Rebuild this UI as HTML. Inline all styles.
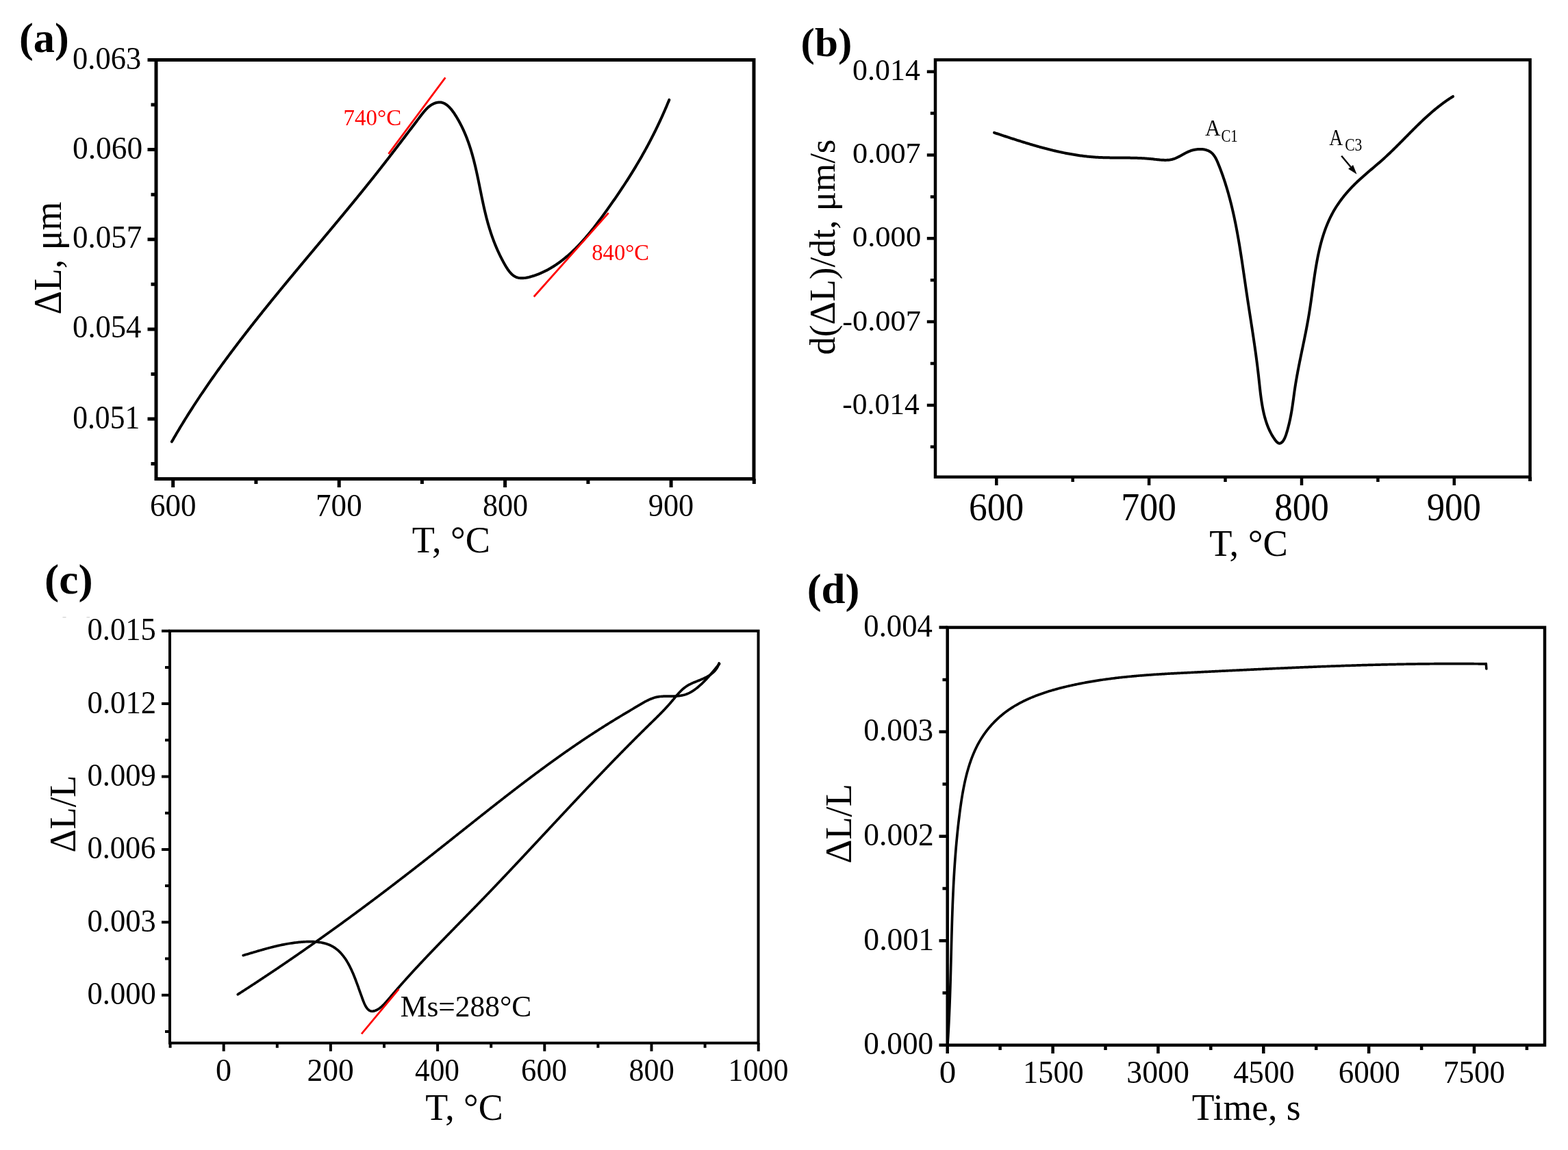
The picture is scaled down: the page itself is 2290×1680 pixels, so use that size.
<!DOCTYPE html>
<html><head><meta charset="utf-8"><title>Dilatometry curves</title>
<style>html,body{margin:0;padding:0;background:#fff;overflow:hidden}svg{display:block}</style>
</head><body>
<svg xmlns="http://www.w3.org/2000/svg" width="2290" height="1680" viewBox="0 0 2290 1680" font-family="'Liberation Serif','Times New Roman',serif">
<rect width="2290" height="1680" fill="#fff"/>
<rect x="228.0" y="87.5" width="873.0" height="612.1" fill="none" stroke="#000" stroke-width="5.0"/>
<path d="M252.7,699.6V712.1M495.2,699.6V712.1M737.6,699.6V712.1M980.1,699.6V712.1M373.9,699.6V707.1M616.4,699.6V707.1M858.9,699.6V707.1M1101.3,699.6V707.1M228.0,612.0H215.5M228.0,480.9H215.5M228.0,349.7H215.5M228.0,218.6H215.5M228.0,87.5H215.5M228.0,677.6H220.5M228.0,546.4H220.5M228.0,415.3H220.5M228.0,284.2H220.5M228.0,153.1H220.5" stroke="#000" stroke-width="5.0" fill="none"/>
<rect x="1366.0" y="87.4" width="868.6" height="609.4" fill="none" stroke="#000" stroke-width="4.5"/>
<path d="M1455.3,696.8V709.0M1678.1,696.8V709.0M1901.0,696.8V709.0M2123.8,696.8V709.0M1566.7,696.8V704.0M1789.5,696.8V704.0M2012.4,696.8V704.0M1366.0,104.7H1353.8M1366.0,226.5H1353.8M1366.0,348.3H1353.8M1366.0,470.1H1353.8M1366.0,591.9H1353.8M1366.0,165.6H1358.8M1366.0,287.4H1358.8M1366.0,409.2H1358.8M1366.0,531.0H1358.8M1366.0,652.8H1358.8" stroke="#000" stroke-width="4.5" fill="none"/>
<path d="M2234.6,696.8V703" stroke="#000" stroke-width="5"/>
<rect x="248.0" y="921.7" width="859.5" height="602.0" fill="none" stroke="#000" stroke-width="4.0"/>
<path d="M326.7,1523.7V1535.7M482.9,1523.7V1535.7M639.1,1523.7V1535.7M795.3,1523.7V1535.7M951.5,1523.7V1535.7M1107.7,1523.7V1535.7M248.6,1523.7V1530.7M404.8,1523.7V1530.7M561.0,1523.7V1530.7M717.2,1523.7V1530.7M873.4,1523.7V1530.7M1029.6,1523.7V1530.7M248.0,1453.7H236.0M248.0,1347.3H236.0M248.0,1240.9H236.0M248.0,1134.5H236.0M248.0,1028.1H236.0M248.0,921.7H236.0M248.0,1506.9H241.0M248.0,1400.5H241.0M248.0,1294.1H241.0M248.0,1187.7H241.0M248.0,1081.3H241.0M248.0,974.9H241.0" stroke="#000" stroke-width="4.0" fill="none"/>
<rect x="1383.7" y="916.6" width="872.3" height="610.2" fill="none" stroke="#000" stroke-width="4.5"/>
<path d="M1383.7,1526.8V1539.0M1537.6,1526.8V1539.0M1691.4,1526.8V1539.0M1845.3,1526.8V1539.0M1999.1,1526.8V1539.0M2153.0,1526.8V1539.0M1460.6,1526.8V1534.0M1614.5,1526.8V1534.0M1768.3,1526.8V1534.0M1922.2,1526.8V1534.0M2076.1,1526.8V1534.0M2229.9,1526.8V1534.0M1383.7,1526.8H1371.5M1383.7,1374.2H1371.5M1383.7,1221.7H1371.5M1383.7,1069.1H1371.5M1383.7,916.6H1371.5M1383.7,1450.5H1376.5M1383.7,1298.0H1376.5M1383.7,1145.4H1376.5M1383.7,992.9H1376.5" stroke="#000" stroke-width="4.5" fill="none"/>
<path d="M250.89,645.30 L251.63,644.00 L252.38,642.70 L253.13,641.39 L253.88,640.09 L254.63,638.80 L255.39,637.50 L256.14,636.20 L256.90,634.91 L257.66,633.61 L258.42,632.32 L259.19,631.03 L259.95,629.74 L260.72,628.45 L261.49,627.16 L262.26,625.87 L263.03,624.58 L263.81,623.30 L264.58,622.02 L265.36,620.73 L266.14,619.45 L266.92,618.17 L267.71,616.89 L268.49,615.61 L269.28,614.33 L270.07,613.06 L270.86,611.78 L271.65,610.51 L272.45,609.24 L273.24,607.96 L274.04,606.69 L274.84,605.42 L275.64,604.15 L276.44,602.89 L277.25,601.62 L278.05,600.35 L278.86,599.09 L279.67,597.83 L280.48,596.56 L281.29,595.30 L282.10,594.04 L282.92,592.78 L283.74,591.52 L284.56,590.27 L285.38,589.01 L286.20,587.75 L287.02,586.50 L287.85,585.25 L288.67,583.99 L289.50,582.74 L290.33,581.49 L291.16,580.24 L291.99,578.99 L292.83,577.74 L293.66,576.50 L294.50,575.25 L295.34,574.01 L296.18,572.76 L297.02,571.52 L297.86,570.28 L298.71,569.04 L299.55,567.80 L300.40,566.56 L301.25,565.32 L302.10,564.08 L302.95,562.84 L303.80,561.61 L304.66,560.37 L305.51,559.14 L306.37,557.91 L307.23,556.67 L308.09,555.44 L308.95,554.21 L309.81,552.98 L310.67,551.75 L311.54,550.52 L312.40,549.30 L313.27,548.07 L314.14,546.84 L315.01,545.62 L315.88,544.40 L316.75,543.17 L317.63,541.95 L318.50,540.73 L319.38,539.51 L320.26,538.29 L321.13,537.07 L322.01,535.85 L322.89,534.63 L323.78,533.42 L324.66,532.20 L325.55,530.99 L326.43,529.77 L327.32,528.56 L328.21,527.35 L329.10,526.13 L329.99,524.92 L330.88,523.71 L331.77,522.50 L332.66,521.29 L333.56,520.08 L334.46,518.88 L335.35,517.67 L336.25,516.46 L337.15,515.26 L338.05,514.05 L338.95,512.85 L339.85,511.65 L340.76,510.44 L341.66,509.24 L342.57,508.04 L343.47,506.84 L344.38,505.64 L345.29,504.44 L346.20,503.24 L347.11,502.04 L348.02,500.84 L348.93,499.65 L349.85,498.45 L350.76,497.26 L351.67,496.06 L352.59,494.87 L353.51,493.67 L354.43,492.48 L355.34,491.29 L356.26,490.10 L357.18,488.91 L358.11,487.71 L359.03,486.52 L359.95,485.34 L360.88,484.15 L361.80,482.96 L362.73,481.77 L363.65,480.58 L364.58,479.40 L365.51,478.21 L366.44,477.03 L367.37,475.84 L368.30,474.66 L369.23,473.47 L370.16,472.29 L371.09,471.11 L372.03,469.92 L372.96,468.74 L373.89,467.56 L374.83,466.38 L375.77,465.20 L376.70,464.02 L377.64,462.84 L378.58,461.66 L379.52,460.49 L380.46,459.31 L381.40,458.13 L382.34,456.96 L383.28,455.78 L384.22,454.60 L385.17,453.43 L386.11,452.25 L387.05,451.08 L388.00,449.90 L388.94,448.73 L389.89,447.56 L390.84,446.39 L391.78,445.21 L392.73,444.04 L393.68,442.87 L394.63,441.70 L395.58,440.53 L396.53,439.36 L397.48,438.19 L398.43,437.02 L399.38,435.85 L400.33,434.68 L401.28,433.51 L402.24,432.35 L403.19,431.18 L404.14,430.01 L405.10,428.85 L406.05,427.68 L407.01,426.51 L407.96,425.35 L408.92,424.18 L409.88,423.02 L410.83,421.85 L411.79,420.69 L412.75,419.53 L413.70,418.36 L414.66,417.20 L415.62,416.04 L416.58,414.87 L417.54,413.71 L418.50,412.55 L419.46,411.39 L420.42,410.23 L421.38,409.06 L422.34,407.90 L423.30,406.74 L424.26,405.58 L425.22,404.42 L426.18,403.26 L427.15,402.10 L428.11,400.94 L429.07,399.78 L430.03,398.63 L431.00,397.47 L431.96,396.31 L432.92,395.15 L433.89,393.99 L434.85,392.83 L435.81,391.68 L436.78,390.52 L437.74,389.36 L438.71,388.20 L439.67,387.05 L440.64,385.89 L441.60,384.74 L442.57,383.58 L443.53,382.42 L444.50,381.27 L445.46,380.11 L446.43,378.96 L447.39,377.80 L448.36,376.64 L449.32,375.49 L450.29,374.33 L451.25,373.18 L452.22,372.02 L453.19,370.87 L454.15,369.72 L455.12,368.56 L456.08,367.41 L457.05,366.25 L458.01,365.10 L458.98,363.94 L459.94,362.79 L460.91,361.64 L461.88,360.48 L462.84,359.33 L463.81,358.18 L464.77,357.02 L465.74,355.87 L466.70,354.72 L467.67,353.56 L468.63,352.41 L469.60,351.26 L470.56,350.10 L471.52,348.95 L472.49,347.80 L473.45,346.64 L474.42,345.49 L475.38,344.34 L476.34,343.18 L477.31,342.03 L478.27,340.88 L479.23,339.72 L480.20,338.57 L481.16,337.42 L482.12,336.27 L483.08,335.11 L484.05,333.96 L485.01,332.81 L485.97,331.65 L486.93,330.50 L487.89,329.35 L488.85,328.19 L489.81,327.04 L490.77,325.89 L491.73,324.73 L492.69,323.58 L493.65,322.42 L494.61,321.27 L495.56,320.12 L496.52,318.96 L497.48,317.81 L498.44,316.65 L499.39,315.50 L500.35,314.35 L501.31,313.19 L502.26,312.04 L503.22,310.88 L504.17,309.73 L505.12,308.57 L506.08,307.42 L507.03,306.26 L507.98,305.11 L508.94,303.95 L509.89,302.79 L510.84,301.64 L511.79,300.48 L512.74,299.33 L513.69,298.17 L514.64,297.01 L515.59,295.86 L516.54,294.70 L517.49,293.54 L518.43,292.39 L519.38,291.23 L520.33,290.07 L521.27,288.91 L522.22,287.75 L523.16,286.60 L524.10,285.44 L525.05,284.28 L525.99,283.12 L526.93,281.96 L527.87,280.80 L528.81,279.64 L529.75,278.48 L530.69,277.32 L531.63,276.16 L532.57,275.00 L533.50,273.84 L534.44,272.67 L535.38,271.51 L536.31,270.35 L537.25,269.19 L538.18,268.03 L539.11,266.86 L540.04,265.70 L540.98,264.54 L541.91,263.37 L542.84,262.21 L543.76,261.04 L544.69,259.88 L545.62,258.71 L546.55,257.55 L547.47,256.38 L548.40,255.21 L549.32,254.05 L550.24,252.88 L551.17,251.71 L552.09,250.55 L553.01,249.38 L553.93,248.21 L554.85,247.04 L555.77,245.87 L556.68,244.70 L557.60,243.53 L558.52,242.36 L559.43,241.19 L560.35,240.02 L561.26,238.84 L562.17,237.67 L563.09,236.50 L564.00,235.32 L564.91,234.14 L565.83,232.97 L566.74,231.79 L567.65,230.61 L568.56,229.43 L569.47,228.25 L570.39,227.07 L571.30,225.89 L572.21,224.70 L573.12,223.52 L574.03,222.33 L574.95,221.14 L575.86,219.95 L576.77,218.76 L577.69,217.57 L578.60,216.38 L579.52,215.18 L580.43,213.99 L581.35,212.79 L582.27,211.59 L583.18,210.39 L584.10,209.18 L585.02,207.98 L585.94,206.77 L586.86,205.56 L587.78,204.35 L588.71,203.14 L589.63,201.93 L590.56,200.71 L591.48,199.49 L592.41,198.27 L593.34,197.05 L594.27,195.83 L595.20,194.60 L596.13,193.37 L597.07,192.14 L598.01,190.91 L598.94,189.67 L599.88,188.43 L600.82,187.19 L601.77,185.95 L602.71,184.70 L603.66,183.46 L604.61,182.21 L605.56,180.95 L606.51,179.70 L607.47,178.44 L608.42,177.18 L609.38,175.91 L610.35,174.65 L611.31,173.38 L612.28,172.10 L613.24,170.83 L614.22,169.55 L615.19,168.27 L616.17,167.00 L617.16,165.74 L618.16,164.50 L619.17,163.27 L620.19,162.07 L621.23,160.90 L622.29,159.76 L623.36,158.66 L624.45,157.60 L625.57,156.58 L626.70,155.62 L627.87,154.71 L629.06,153.87 L630.27,153.08 L631.51,152.36 L632.76,151.72 L634.02,151.14 L635.30,150.65 L636.58,150.23 L637.86,149.89 L639.13,149.64 L640.40,149.49 L641.66,149.42 L642.90,149.45 L644.12,149.58 L645.32,149.81 L646.50,150.13 L647.66,150.54 L648.79,151.04 L649.91,151.63 L651.00,152.29 L652.08,153.02 L653.14,153.82 L654.18,154.69 L655.20,155.62 L656.20,156.60 L657.18,157.64 L658.15,158.72 L659.10,159.85 L660.03,161.02 L660.94,162.22 L661.84,163.45 L662.73,164.71 L663.60,165.99 L664.45,167.29 L665.29,168.60 L666.11,169.92 L666.92,171.24 L667.72,172.57 L668.50,173.91 L669.27,175.24 L670.03,176.59 L670.77,177.93 L671.50,179.28 L672.22,180.63 L672.93,181.99 L673.62,183.35 L674.30,184.71 L674.97,186.08 L675.63,187.45 L676.27,188.83 L676.91,190.21 L677.53,191.59 L678.15,192.97 L678.75,194.36 L679.34,195.75 L679.92,197.14 L680.49,198.54 L681.05,199.94 L681.60,201.34 L682.14,202.75 L682.68,204.16 L683.20,205.57 L683.71,206.99 L684.22,208.40 L684.71,209.82 L685.20,211.24 L685.68,212.67 L686.15,214.10 L686.61,215.53 L687.07,216.96 L687.52,218.39 L687.96,219.83 L688.39,221.27 L688.82,222.71 L689.24,224.15 L689.65,225.59 L690.05,227.04 L690.45,228.49 L690.85,229.94 L691.24,231.39 L691.62,232.84 L692.00,234.30 L692.37,235.76 L692.73,237.22 L693.10,238.68 L693.45,240.14 L693.80,241.60 L694.15,243.06 L694.50,244.53 L694.84,246.00 L695.17,247.46 L695.50,248.93 L695.83,250.40 L696.16,251.87 L696.48,253.35 L696.80,254.82 L697.12,256.29 L697.43,257.77 L697.74,259.24 L698.05,260.72 L698.36,262.19 L698.67,263.67 L698.97,265.15 L699.27,266.62 L699.58,268.10 L699.88,269.58 L700.18,271.06 L700.48,272.54 L700.77,274.02 L701.07,275.50 L701.37,276.98 L701.67,278.45 L701.97,279.93 L702.27,281.41 L702.57,282.89 L702.87,284.37 L703.17,285.85 L703.48,287.32 L703.78,288.80 L704.09,290.28 L704.40,291.75 L704.71,293.23 L705.02,294.71 L705.33,296.18 L705.65,297.65 L705.97,299.13 L706.29,300.60 L706.62,302.07 L706.95,303.54 L707.28,305.01 L707.62,306.48 L707.96,307.94 L708.31,309.41 L708.65,310.87 L709.01,312.33 L709.37,313.80 L709.73,315.26 L710.10,316.71 L710.47,318.17 L710.85,319.63 L711.23,321.08 L711.62,322.53 L712.01,323.98 L712.42,325.43 L712.82,326.88 L713.24,328.33 L713.66,329.77 L714.08,331.22 L714.52,332.66 L714.96,334.10 L715.40,335.54 L715.86,336.97 L716.32,338.41 L716.78,339.84 L717.26,341.28 L717.74,342.71 L718.23,344.14 L718.73,345.57 L719.24,347.00 L719.75,348.42 L720.28,349.85 L720.81,351.27 L721.35,352.70 L721.90,354.12 L722.46,355.54 L723.02,356.96 L723.60,358.38 L724.19,359.79 L724.78,361.21 L725.39,362.62 L726.00,364.04 L726.62,365.45 L727.26,366.86 L727.90,368.27 L728.56,369.68 L729.22,371.09 L729.90,372.50 L730.58,373.90 L731.28,375.31 L731.99,376.71 L732.71,378.12 L733.44,379.52 L734.18,380.92 L734.93,382.32 L735.70,383.72 L736.48,385.12 L737.26,386.51 L738.07,387.90 L738.88,389.28 L739.72,390.64 L740.57,391.98 L741.44,393.28 L742.32,394.56 L743.23,395.79 L744.16,396.98 L745.12,398.12 L746.10,399.21 L747.10,400.23 L748.13,401.19 L749.19,402.08 L750.28,402.89 L751.41,403.62 L752.56,404.26 L753.74,404.81 L754.96,405.26 L756.21,405.63 L757.49,405.92 L758.79,406.12 L760.12,406.26 L761.46,406.32 L762.82,406.31 L764.20,406.25 L765.59,406.13 L767.00,405.96 L768.41,405.74 L769.83,405.47 L771.25,405.17 L772.67,404.84 L774.09,404.47 L775.51,404.08 L776.92,403.67 L778.32,403.24 L779.72,402.80 L781.11,402.33 L782.49,401.85 L783.86,401.36 L785.23,400.84 L786.59,400.31 L787.94,399.77 L789.29,399.21 L790.62,398.63 L791.96,398.04 L793.28,397.43 L794.59,396.81 L795.90,396.17 L797.21,395.51 L798.50,394.85 L799.79,394.16 L801.07,393.47 L802.35,392.75 L803.62,392.03 L804.88,391.29 L806.13,390.54 L807.38,389.77 L808.62,388.99 L809.86,388.20 L811.09,387.40 L812.31,386.58 L813.53,385.75 L814.74,384.91 L815.94,384.05 L817.14,383.18 L818.33,382.31 L819.52,381.42 L820.70,380.51 L821.87,379.60 L823.04,378.68 L824.20,377.75 L825.36,376.80 L826.51,375.84 L827.65,374.88 L828.79,373.90 L829.93,372.92 L831.05,371.92 L832.18,370.92 L833.29,369.90 L834.40,368.88 L835.51,367.85 L836.61,366.81 L837.70,365.76 L838.79,364.70 L839.88,363.63 L840.96,362.56 L842.03,361.48 L843.10,360.39 L844.17,359.29 L845.23,358.18 L846.28,357.07 L847.33,355.95 L848.37,354.83 L849.41,353.70 L850.45,352.56 L851.48,351.41 L852.50,350.26 L853.53,349.11 L854.54,347.94 L855.55,346.78 L856.56,345.60 L857.57,344.42 L858.56,343.24 L859.56,342.05 L860.55,340.86 L861.54,339.66 L862.52,338.46 L863.50,337.26 L864.47,336.05 L865.44,334.84 L866.41,333.62 L867.37,332.40 L868.33,331.18 L869.28,329.96 L870.23,328.73 L871.18,327.50 L872.12,326.27 L873.06,325.03 L874.00,323.79 L874.93,322.56 L875.86,321.32 L876.78,320.08 L877.70,318.83 L878.62,317.59 L879.54,316.34 L880.45,315.10 L881.36,313.85 L882.26,312.61 L883.17,311.36 L884.07,310.12 L884.96,308.87 L885.86,307.62 L886.75,306.38 L887.64,305.14 L888.52,303.89 L889.40,302.65 L890.28,301.41 L891.16,300.17 L892.03,298.93 L892.90,297.69 L893.77,296.45 L894.64,295.21 L895.50,293.97 L896.36,292.74 L897.22,291.50 L898.07,290.26 L898.92,289.03 L899.77,287.79 L900.62,286.56 L901.46,285.32 L902.30,284.09 L903.14,282.85 L903.98,281.62 L904.81,280.38 L905.64,279.15 L906.47,277.91 L907.29,276.67 L908.11,275.44 L908.93,274.20 L909.75,272.97 L910.56,271.73 L911.38,270.49 L912.18,269.26 L912.99,268.02 L913.80,266.78 L914.60,265.54 L915.40,264.30 L916.19,263.06 L916.99,261.82 L917.78,260.58 L918.57,259.34 L919.35,258.10 L920.14,256.85 L920.92,255.61 L921.70,254.36 L922.47,253.11 L923.25,251.87 L924.02,250.62 L924.79,249.37 L925.55,248.11 L926.32,246.86 L927.08,245.61 L927.84,244.35 L928.59,243.10 L929.35,241.84 L930.10,240.58 L930.85,239.32 L931.60,238.05 L932.34,236.79 L933.08,235.52 L933.82,234.25 L934.56,232.99 L935.30,231.71 L936.03,230.44 L936.76,229.16 L937.49,227.89 L938.22,226.61 L938.94,225.33 L939.66,224.04 L940.38,222.76 L941.10,221.47 L941.81,220.18 L942.53,218.89 L943.24,217.59 L943.94,216.30 L944.65,215.00 L945.35,213.70 L946.06,212.39 L946.76,211.08 L947.45,209.78 L948.15,208.46 L948.84,207.15 L949.53,205.83 L950.22,204.51 L950.91,203.19 L951.59,201.86 L952.27,200.53 L952.95,199.20 L953.63,197.86 L954.31,196.53 L954.98,195.18 L955.65,193.84 L956.32,192.49 L956.99,191.14 L957.66,189.79 L958.32,188.43 L958.98,187.07 L959.64,185.70 L960.30,184.34 L960.95,182.97 L961.61,181.59 L962.26,180.21 L962.91,178.83 L963.56,177.44 L964.20,176.05 L964.84,174.66 L965.49,173.26 L966.13,171.86 L966.76,170.46 L967.40,169.05 L968.03,167.63 L968.67,166.21 L969.30,164.79 L969.92,163.37 L970.55,161.94 L971.18,160.50 L971.80,159.06 L972.42,157.62 L973.04,156.17 L973.66,154.72 L974.27,153.26 L974.88,151.80 L975.50,150.34 L976.11,148.87 L976.71,147.39 L977.32,145.91" fill="none" stroke="#000" stroke-width="4.0" stroke-linejoin="round" stroke-linecap="round"/>
<path d="M1452.06,193.82 L1453.48,194.29 L1454.90,194.77 L1456.32,195.24 L1457.74,195.71 L1459.16,196.18 L1460.59,196.66 L1462.01,197.13 L1463.44,197.60 L1464.86,198.07 L1466.29,198.54 L1467.71,199.01 L1469.14,199.48 L1470.57,199.95 L1472.00,200.42 L1473.43,200.89 L1474.86,201.36 L1476.29,201.82 L1477.72,202.29 L1479.15,202.75 L1480.58,203.21 L1482.02,203.68 L1483.45,204.14 L1484.89,204.59 L1486.32,205.05 L1487.76,205.51 L1489.20,205.96 L1490.63,206.41 L1492.07,206.86 L1493.51,207.31 L1494.95,207.76 L1496.39,208.20 L1497.83,208.65 L1499.27,209.09 L1500.72,209.52 L1502.16,209.96 L1503.60,210.39 L1505.05,210.82 L1506.49,211.25 L1507.94,211.67 L1509.38,212.10 L1510.83,212.52 L1512.28,212.93 L1513.73,213.35 L1515.18,213.76 L1516.63,214.16 L1518.08,214.57 L1519.53,214.97 L1520.98,215.37 L1522.43,215.76 L1523.89,216.15 L1525.34,216.54 L1526.80,216.92 L1528.25,217.30 L1529.71,217.68 L1531.17,218.05 L1532.62,218.42 L1534.08,218.78 L1535.54,219.14 L1537.00,219.49 L1538.46,219.84 L1539.92,220.19 L1541.38,220.53 L1542.85,220.87 L1544.31,221.20 L1545.77,221.53 L1547.24,221.85 L1548.71,222.17 L1550.17,222.49 L1551.64,222.79 L1553.11,223.10 L1554.58,223.40 L1556.04,223.69 L1557.51,223.98 L1558.98,224.26 L1560.46,224.54 L1561.93,224.81 L1563.40,225.07 L1564.87,225.33 L1566.35,225.59 L1567.82,225.83 L1569.30,226.08 L1570.78,226.31 L1572.25,226.54 L1573.73,226.77 L1575.21,226.98 L1576.69,227.20 L1578.17,227.40 L1579.65,227.60 L1581.13,227.79 L1582.62,227.98 L1584.10,228.15 L1585.58,228.33 L1587.07,228.49 L1588.55,228.65 L1590.04,228.80 L1591.53,228.94 L1593.01,229.08 L1594.50,229.21 L1595.99,229.33 L1597.48,229.44 L1598.97,229.55 L1600.46,229.65 L1601.95,229.74 L1603.45,229.83 L1604.94,229.90 L1606.43,229.97 L1607.93,230.04 L1609.43,230.10 L1610.92,230.15 L1612.42,230.20 L1613.92,230.24 L1615.41,230.28 L1616.91,230.32 L1618.41,230.35 L1619.91,230.37 L1621.41,230.40 L1622.91,230.42 L1624.41,230.43 L1625.92,230.45 L1627.42,230.46 L1628.92,230.47 L1630.42,230.48 L1631.93,230.49 L1633.43,230.50 L1634.93,230.50 L1636.44,230.51 L1637.94,230.52 L1639.45,230.53 L1640.95,230.53 L1642.46,230.54 L1643.97,230.55 L1645.47,230.57 L1646.98,230.58 L1648.48,230.60 L1649.99,230.62 L1651.50,230.64 L1653.01,230.67 L1654.51,230.70 L1656.02,230.73 L1657.53,230.77 L1659.04,230.81 L1660.54,230.86 L1662.05,230.91 L1663.56,230.97 L1665.07,231.03 L1666.57,231.10 L1668.08,231.17 L1669.59,231.26 L1671.10,231.35 L1672.60,231.45 L1674.11,231.55 L1675.62,231.66 L1677.13,231.79 L1678.63,231.92 L1680.14,232.06 L1681.65,232.21 L1683.15,232.36 L1684.66,232.53 L1686.16,232.70 L1687.67,232.87 L1689.17,233.04 L1690.66,233.20 L1692.16,233.36 L1693.65,233.50 L1695.13,233.62 L1696.61,233.73 L1698.08,233.82 L1699.55,233.87 L1701.01,233.90 L1702.46,233.90 L1703.90,233.86 L1705.34,233.78 L1706.76,233.66 L1708.18,233.49 L1709.58,233.27 L1710.97,233.00 L1712.35,232.68 L1713.71,232.29 L1715.07,231.84 L1716.41,231.34 L1717.74,230.78 L1719.07,230.18 L1720.39,229.54 L1721.71,228.87 L1723.03,228.17 L1724.36,227.45 L1725.69,226.71 L1727.02,225.97 L1728.37,225.22 L1729.73,224.48 L1731.11,223.75 L1732.50,223.04 L1733.92,222.35 L1735.36,221.69 L1736.82,221.07 L1738.31,220.49 L1739.83,219.96 L1741.38,219.48 L1742.96,219.06 L1744.57,218.70 L1746.21,218.41 L1747.85,218.18 L1749.51,218.02 L1751.17,217.93 L1752.82,217.90 L1754.45,217.95 L1756.07,218.06 L1757.66,218.25 L1759.22,218.52 L1760.74,218.86 L1762.21,219.27 L1763.62,219.77 L1764.97,220.34 L1766.26,220.99 L1767.47,221.73 L1768.61,222.54 L1769.68,223.43 L1770.68,224.39 L1771.63,225.41 L1772.51,226.48 L1773.35,227.62 L1774.14,228.80 L1774.89,230.02 L1775.60,231.29 L1776.27,232.58 L1776.92,233.91 L1777.54,235.26 L1778.14,236.63 L1778.72,238.01 L1779.29,239.40 L1779.85,240.80 L1780.41,242.19 L1780.96,243.59 L1781.51,245.00 L1782.05,246.40 L1782.58,247.80 L1783.11,249.21 L1783.63,250.62 L1784.15,252.03 L1784.66,253.45 L1785.17,254.86 L1785.67,256.28 L1786.16,257.70 L1786.65,259.12 L1787.13,260.54 L1787.61,261.96 L1788.09,263.39 L1788.56,264.82 L1789.02,266.24 L1789.48,267.67 L1789.93,269.11 L1790.38,270.54 L1790.82,271.98 L1791.26,273.41 L1791.70,274.85 L1792.13,276.29 L1792.55,277.73 L1792.97,279.18 L1793.39,280.62 L1793.80,282.07 L1794.20,283.51 L1794.61,284.96 L1795.00,286.41 L1795.40,287.86 L1795.79,289.32 L1796.17,290.77 L1796.55,292.22 L1796.93,293.68 L1797.30,295.14 L1797.67,296.60 L1798.04,298.06 L1798.40,299.52 L1798.75,300.98 L1799.11,302.44 L1799.46,303.91 L1799.80,305.38 L1800.14,306.84 L1800.48,308.31 L1800.82,309.78 L1801.15,311.25 L1801.48,312.72 L1801.80,314.19 L1802.12,315.66 L1802.44,317.14 L1802.76,318.61 L1803.07,320.09 L1803.38,321.56 L1803.68,323.04 L1803.98,324.52 L1804.28,325.99 L1804.58,327.47 L1804.87,328.95 L1805.16,330.43 L1805.45,331.92 L1805.74,333.40 L1806.02,334.88 L1806.30,336.36 L1806.58,337.85 L1806.85,339.33 L1807.13,340.82 L1807.40,342.30 L1807.66,343.79 L1807.93,345.27 L1808.19,346.76 L1808.45,348.25 L1808.71,349.74 L1808.97,351.22 L1809.22,352.71 L1809.48,354.20 L1809.73,355.69 L1809.98,357.18 L1810.22,358.67 L1810.47,360.16 L1810.71,361.65 L1810.95,363.14 L1811.20,364.63 L1811.43,366.12 L1811.67,367.61 L1811.91,369.10 L1812.14,370.59 L1812.37,372.08 L1812.61,373.58 L1812.84,375.07 L1813.07,376.56 L1813.29,378.05 L1813.52,379.54 L1813.75,381.03 L1813.97,382.52 L1814.20,384.01 L1814.42,385.50 L1814.64,387.00 L1814.86,388.49 L1815.08,389.98 L1815.30,391.47 L1815.52,392.96 L1815.74,394.45 L1815.96,395.94 L1816.18,397.42 L1816.39,398.91 L1816.61,400.40 L1816.83,401.89 L1817.04,403.38 L1817.26,404.87 L1817.47,406.35 L1817.69,407.84 L1817.91,409.32 L1818.12,410.81 L1818.34,412.30 L1818.55,413.78 L1818.77,415.26 L1818.98,416.75 L1819.20,418.23 L1819.42,419.71 L1819.63,421.19 L1819.85,422.67 L1820.07,424.15 L1820.29,425.63 L1820.51,427.11 L1820.73,428.59 L1820.95,430.07 L1821.17,431.54 L1821.39,433.02 L1821.61,434.49 L1821.83,435.97 L1822.05,437.44 L1822.28,438.92 L1822.50,440.39 L1822.73,441.86 L1822.95,443.33 L1823.18,444.80 L1823.40,446.27 L1823.63,447.74 L1823.86,449.21 L1824.08,450.68 L1824.31,452.15 L1824.54,453.62 L1824.76,455.09 L1824.99,456.56 L1825.22,458.02 L1825.45,459.49 L1825.67,460.96 L1825.90,462.43 L1826.13,463.90 L1826.36,465.37 L1826.58,466.83 L1826.81,468.30 L1827.04,469.77 L1827.26,471.24 L1827.49,472.71 L1827.72,474.18 L1827.94,475.65 L1828.17,477.12 L1828.40,478.59 L1828.62,480.06 L1828.85,481.53 L1829.07,483.00 L1829.29,484.47 L1829.52,485.95 L1829.74,487.42 L1829.96,488.89 L1830.18,490.37 L1830.40,491.84 L1830.62,493.32 L1830.84,494.80 L1831.06,496.27 L1831.28,497.75 L1831.50,499.23 L1831.71,500.71 L1831.93,502.19 L1832.15,503.68 L1832.36,505.16 L1832.57,506.64 L1832.78,508.13 L1832.99,509.61 L1833.20,511.10 L1833.41,512.59 L1833.62,514.08 L1833.83,515.57 L1834.03,517.07 L1834.24,518.56 L1834.44,520.06 L1834.64,521.55 L1834.84,523.05 L1835.04,524.55 L1835.24,526.05 L1835.43,527.56 L1835.63,529.06 L1835.82,530.57 L1836.01,532.07 L1836.20,533.58 L1836.39,535.10 L1836.58,536.61 L1836.76,538.12 L1836.94,539.64 L1837.13,541.16 L1837.31,542.68 L1837.48,544.20 L1837.66,545.73 L1837.83,547.26 L1838.01,548.78 L1838.18,550.32 L1838.35,551.85 L1838.51,553.38 L1838.68,554.92 L1838.85,556.46 L1839.01,558.00 L1839.18,559.54 L1839.34,561.08 L1839.51,562.62 L1839.68,564.16 L1839.84,565.70 L1840.02,567.24 L1840.19,568.78 L1840.36,570.32 L1840.54,571.86 L1840.73,573.40 L1840.91,574.93 L1841.10,576.47 L1841.30,578.00 L1841.50,579.53 L1841.70,581.05 L1841.91,582.58 L1842.13,584.10 L1842.35,585.61 L1842.58,587.13 L1842.82,588.64 L1843.06,590.14 L1843.31,591.64 L1843.57,593.14 L1843.84,594.63 L1844.12,596.12 L1844.41,597.60 L1844.71,599.08 L1845.01,600.54 L1845.33,602.01 L1845.66,603.47 L1846.00,604.92 L1846.35,606.36 L1846.72,607.80 L1847.10,609.23 L1847.49,610.65 L1847.89,612.06 L1848.30,613.47 L1848.74,614.87 L1849.18,616.25 L1849.64,617.63 L1850.11,619.01 L1850.60,620.37 L1851.11,621.72 L1851.63,623.06 L1852.17,624.39 L1852.73,625.72 L1853.30,627.03 L1853.89,628.33 L1854.50,629.62 L1855.13,630.89 L1855.77,632.16 L1856.44,633.41 L1857.12,634.66 L1857.83,635.89 L1858.56,637.10 L1859.30,638.31 L1860.07,639.50 L1860.86,640.68 L1861.67,641.84 L1862.50,642.99 L1863.36,644.11 L1864.24,645.15 L1865.13,646.06 L1866.05,646.81 L1866.99,647.35 L1867.94,647.64 L1868.90,647.69 L1869.85,647.51 L1870.79,647.13 L1871.70,646.55 L1872.57,645.80 L1873.40,644.88 L1874.18,643.81 L1874.93,642.60 L1875.65,641.27 L1876.33,639.85 L1876.97,638.33 L1877.59,636.73 L1878.18,635.08 L1878.74,633.38 L1879.28,631.66 L1879.80,629.92 L1880.29,628.18 L1880.77,626.46 L1881.23,624.75 L1881.67,623.05 L1882.10,621.37 L1882.51,619.70 L1882.90,618.05 L1883.28,616.40 L1883.64,614.77 L1884.00,613.15 L1884.33,611.55 L1884.66,609.95 L1884.97,608.36 L1885.27,606.79 L1885.56,605.22 L1885.84,603.67 L1886.11,602.12 L1886.37,600.58 L1886.63,599.05 L1886.87,597.53 L1887.11,596.02 L1887.34,594.51 L1887.57,593.01 L1887.79,591.51 L1888.00,590.03 L1888.21,588.54 L1888.42,587.07 L1888.62,585.60 L1888.82,584.13 L1889.02,582.66 L1889.22,581.21 L1889.41,579.75 L1889.61,578.30 L1889.81,576.85 L1890.00,575.40 L1890.20,573.95 L1890.40,572.51 L1890.61,571.06 L1890.81,569.62 L1891.03,568.18 L1891.24,566.73 L1891.46,565.29 L1891.68,563.85 L1891.91,562.40 L1892.14,560.96 L1892.38,559.52 L1892.62,558.07 L1892.86,556.63 L1893.11,555.19 L1893.36,553.74 L1893.61,552.30 L1893.86,550.85 L1894.12,549.41 L1894.38,547.97 L1894.65,546.52 L1894.92,545.07 L1895.19,543.63 L1895.46,542.18 L1895.73,540.74 L1896.01,539.29 L1896.29,537.84 L1896.57,536.40 L1896.86,534.95 L1897.14,533.50 L1897.43,532.05 L1897.72,530.60 L1898.01,529.15 L1898.30,527.70 L1898.60,526.25 L1898.89,524.80 L1899.19,523.34 L1899.49,521.89 L1899.79,520.44 L1900.08,518.98 L1900.38,517.53 L1900.69,516.07 L1900.99,514.62 L1901.29,513.16 L1901.59,511.70 L1901.89,510.24 L1902.20,508.78 L1902.50,507.32 L1902.80,505.86 L1903.11,504.40 L1903.41,502.94 L1903.71,501.47 L1904.01,500.01 L1904.31,498.54 L1904.61,497.07 L1904.91,495.61 L1905.21,494.14 L1905.51,492.67 L1905.81,491.20 L1906.10,489.73 L1906.40,488.25 L1906.69,486.78 L1906.98,485.30 L1907.27,483.83 L1907.56,482.35 L1907.85,480.87 L1908.13,479.39 L1908.41,477.91 L1908.69,476.43 L1908.97,474.94 L1909.25,473.46 L1909.52,471.97 L1909.79,470.48 L1910.06,468.99 L1910.33,467.50 L1910.59,466.01 L1910.85,464.52 L1911.10,463.02 L1911.36,461.53 L1911.61,460.03 L1911.86,458.53 L1912.10,457.03 L1912.34,455.53 L1912.58,454.02 L1912.81,452.52 L1913.04,451.01 L1913.27,449.50 L1913.50,448.00 L1913.72,446.49 L1913.94,444.98 L1914.16,443.46 L1914.38,441.95 L1914.60,440.44 L1914.81,438.92 L1915.03,437.41 L1915.24,435.90 L1915.45,434.38 L1915.66,432.86 L1915.87,431.35 L1916.08,429.83 L1916.28,428.32 L1916.49,426.80 L1916.70,425.28 L1916.91,423.77 L1917.11,422.25 L1917.32,420.73 L1917.53,419.22 L1917.74,417.70 L1917.95,416.19 L1918.16,414.67 L1918.37,413.16 L1918.58,411.64 L1918.80,410.13 L1919.02,408.62 L1919.23,407.11 L1919.45,405.60 L1919.68,404.09 L1919.90,402.58 L1920.13,401.07 L1920.36,399.56 L1920.59,398.06 L1920.82,396.56 L1921.06,395.05 L1921.30,393.55 L1921.55,392.05 L1921.79,390.55 L1922.04,389.06 L1922.30,387.56 L1922.56,386.07 L1922.82,384.58 L1923.09,383.09 L1923.36,381.61 L1923.64,380.12 L1923.92,378.64 L1924.20,377.16 L1924.50,375.68 L1924.79,374.20 L1925.09,372.73 L1925.40,371.26 L1925.71,369.79 L1926.03,368.33 L1926.36,366.86 L1926.69,365.40 L1927.03,363.95 L1927.37,362.49 L1927.72,361.04 L1928.08,359.59 L1928.44,358.15 L1928.81,356.71 L1929.19,355.27 L1929.58,353.84 L1929.97,352.40 L1930.37,350.98 L1930.78,349.55 L1931.20,348.13 L1931.62,346.71 L1932.06,345.30 L1932.50,343.89 L1932.95,342.49 L1933.41,341.09 L1933.88,339.69 L1934.36,338.30 L1934.85,336.91 L1935.34,335.52 L1935.85,334.14 L1936.36,332.77 L1936.89,331.39 L1937.43,330.03 L1937.97,328.67 L1938.53,327.31 L1939.10,325.96 L1939.68,324.61 L1940.27,323.27 L1940.87,321.93 L1941.48,320.60 L1942.10,319.27 L1942.74,317.95 L1943.38,316.63 L1944.04,315.32 L1944.71,314.01 L1945.39,312.71 L1946.09,311.42 L1946.79,310.13 L1947.51,308.84 L1948.24,307.57 L1948.99,306.29 L1949.75,305.03 L1950.52,303.77 L1951.30,302.51 L1952.10,301.27 L1952.91,300.02 L1953.74,298.79 L1954.57,297.56 L1955.42,296.34 L1956.28,295.12 L1957.15,293.91 L1958.03,292.70 L1958.92,291.51 L1959.83,290.31 L1960.74,289.13 L1961.66,287.95 L1962.60,286.78 L1963.54,285.61 L1964.50,284.45 L1965.46,283.30 L1966.44,282.16 L1967.42,281.02 L1968.41,279.88 L1969.41,278.76 L1970.42,277.64 L1971.44,276.53 L1972.47,275.42 L1973.50,274.32 L1974.54,273.23 L1975.59,272.15 L1976.64,271.07 L1977.70,270.00 L1978.77,268.94 L1979.85,267.88 L1980.93,266.83 L1982.02,265.79 L1983.11,264.76 L1984.21,263.73 L1985.31,262.70 L1986.42,261.69 L1987.53,260.68 L1988.65,259.67 L1989.77,258.67 L1990.89,257.67 L1992.02,256.68 L1993.15,255.69 L1994.29,254.70 L1995.42,253.72 L1996.56,252.74 L1997.70,251.76 L1998.84,250.78 L1999.99,249.81 L2001.13,248.84 L2002.28,247.86 L2003.42,246.89 L2004.57,245.92 L2005.71,244.95 L2006.86,243.98 L2008.00,243.00 L2009.14,242.03 L2010.29,241.06 L2011.43,240.08 L2012.57,239.10 L2013.70,238.12 L2014.83,237.13 L2015.97,236.15 L2017.09,235.16 L2018.22,234.16 L2019.34,233.16 L2020.46,232.16 L2021.57,231.15 L2022.68,230.14 L2023.78,229.12 L2024.89,228.10 L2025.99,227.08 L2027.08,226.05 L2028.17,225.02 L2029.26,223.99 L2030.35,222.95 L2031.43,221.91 L2032.52,220.87 L2033.59,219.82 L2034.67,218.77 L2035.75,217.72 L2036.82,216.67 L2037.89,215.61 L2038.96,214.55 L2040.03,213.49 L2041.09,212.43 L2042.15,211.37 L2043.22,210.30 L2044.28,209.24 L2045.34,208.17 L2046.40,207.10 L2047.46,206.04 L2048.52,204.97 L2049.58,203.90 L2050.63,202.82 L2051.69,201.75 L2052.75,200.68 L2053.80,199.61 L2054.86,198.54 L2055.92,197.47 L2056.98,196.40 L2058.03,195.33 L2059.09,194.26 L2060.15,193.19 L2061.21,192.13 L2062.28,191.06 L2063.34,190.00 L2064.40,188.93 L2065.47,187.87 L2066.53,186.81 L2067.60,185.76 L2068.67,184.70 L2069.75,183.65 L2070.82,182.60 L2071.90,181.55 L2072.98,180.50 L2074.06,179.46 L2075.14,178.42 L2076.23,177.38 L2077.32,176.35 L2078.41,175.32 L2079.50,174.29 L2080.60,173.27 L2081.70,172.25 L2082.81,171.24 L2083.92,170.22 L2085.03,169.22 L2086.15,168.22 L2087.27,167.22 L2088.39,166.22 L2089.52,165.24 L2090.65,164.25 L2091.79,163.28 L2092.93,162.30 L2094.08,161.34 L2095.23,160.37 L2096.39,159.42 L2097.55,158.47 L2098.72,157.52 L2099.89,156.59 L2101.07,155.65 L2102.25,154.73 L2103.44,153.81 L2104.64,152.90 L2105.84,151.99 L2107.05,151.10 L2108.26,150.21 L2109.48,149.32 L2110.71,148.45 L2111.94,147.58 L2113.18,146.72 L2114.43,145.87 L2115.68,145.02 L2116.94,144.19 L2118.21,143.36 L2119.49,142.54 L2120.77,141.73 L2122.06,140.93" fill="none" stroke="#000" stroke-width="4.0" stroke-linejoin="round" stroke-linecap="round"/>
<path d="M347.29,1452.71 L348.56,1451.90 L349.83,1451.09 L351.10,1450.27 L352.37,1449.46 L353.63,1448.65 L354.90,1447.83 L356.16,1447.01 L357.43,1446.20 L358.69,1445.38 L359.96,1444.56 L361.22,1443.75 L362.48,1442.93 L363.75,1442.11 L365.01,1441.29 L366.27,1440.46 L367.53,1439.64 L368.79,1438.82 L370.05,1438.00 L371.31,1437.17 L372.57,1436.35 L373.83,1435.52 L375.09,1434.70 L376.35,1433.87 L377.61,1433.04 L378.86,1432.22 L380.12,1431.39 L381.38,1430.56 L382.63,1429.73 L383.89,1428.90 L385.14,1428.07 L386.40,1427.24 L387.65,1426.40 L388.90,1425.57 L390.16,1424.74 L391.41,1423.90 L392.66,1423.07 L393.91,1422.23 L395.16,1421.40 L396.41,1420.56 L397.67,1419.72 L398.92,1418.88 L400.16,1418.04 L401.41,1417.20 L402.66,1416.36 L403.91,1415.52 L405.16,1414.68 L406.41,1413.84 L407.65,1413.00 L408.90,1412.15 L410.14,1411.31 L411.39,1410.47 L412.63,1409.62 L413.88,1408.77 L415.12,1407.93 L416.37,1407.08 L417.61,1406.23 L418.85,1405.39 L420.10,1404.54 L421.34,1403.69 L422.58,1402.84 L423.82,1401.99 L425.06,1401.14 L426.30,1400.28 L427.54,1399.43 L428.78,1398.58 L430.02,1397.72 L431.26,1396.87 L432.50,1396.01 L433.73,1395.16 L434.97,1394.30 L436.21,1393.45 L437.44,1392.59 L438.68,1391.73 L439.92,1390.87 L441.15,1390.01 L442.39,1389.15 L443.62,1388.29 L444.86,1387.43 L446.09,1386.57 L447.32,1385.71 L448.55,1384.85 L449.79,1383.99 L451.02,1383.12 L452.25,1382.26 L453.48,1381.39 L454.71,1380.53 L455.94,1379.66 L457.17,1378.79 L458.40,1377.93 L459.63,1377.06 L460.86,1376.19 L462.09,1375.32 L463.32,1374.45 L464.54,1373.58 L465.77,1372.71 L467.00,1371.84 L468.22,1370.97 L469.45,1370.10 L470.68,1369.23 L471.90,1368.35 L473.13,1367.48 L474.35,1366.61 L475.57,1365.73 L476.80,1364.86 L478.02,1363.98 L479.24,1363.10 L480.47,1362.23 L481.69,1361.35 L482.91,1360.47 L484.13,1359.59 L485.35,1358.71 L486.57,1357.84 L487.79,1356.96 L489.01,1356.07 L490.23,1355.19 L491.45,1354.31 L492.67,1353.43 L493.89,1352.55 L495.11,1351.66 L496.32,1350.78 L497.54,1349.90 L498.76,1349.01 L499.98,1348.13 L501.19,1347.24 L502.41,1346.35 L503.62,1345.47 L504.84,1344.58 L506.05,1343.69 L507.27,1342.80 L508.48,1341.92 L509.69,1341.03 L510.91,1340.14 L512.12,1339.25 L513.33,1338.36 L514.54,1337.47 L515.76,1336.57 L516.97,1335.68 L518.18,1334.79 L519.39,1333.90 L520.60,1333.00 L521.81,1332.11 L523.02,1331.21 L524.23,1330.32 L525.44,1329.42 L526.65,1328.53 L527.85,1327.63 L529.06,1326.73 L530.27,1325.84 L531.48,1324.94 L532.68,1324.04 L533.89,1323.14 L535.10,1322.24 L536.30,1321.34 L537.51,1320.44 L538.71,1319.54 L539.92,1318.64 L541.12,1317.74 L542.33,1316.84 L543.53,1315.93 L544.73,1315.03 L545.94,1314.13 L547.14,1313.23 L548.34,1312.32 L549.54,1311.42 L550.75,1310.51 L551.95,1309.61 L553.15,1308.70 L554.35,1307.79 L555.55,1306.89 L556.75,1305.98 L557.95,1305.07 L559.15,1304.16 L560.35,1303.25 L561.55,1302.35 L562.75,1301.44 L563.94,1300.53 L565.14,1299.62 L566.34,1298.71 L567.54,1297.79 L568.73,1296.88 L569.93,1295.97 L571.13,1295.06 L572.32,1294.15 L573.52,1293.23 L574.71,1292.32 L575.91,1291.41 L577.10,1290.49 L578.30,1289.58 L579.49,1288.66 L580.69,1287.75 L581.88,1286.83 L583.07,1285.91 L584.27,1285.00 L585.46,1284.08 L586.65,1283.16 L587.84,1282.24 L589.03,1281.32 L590.23,1280.41 L591.42,1279.49 L592.61,1278.57 L593.80,1277.65 L594.99,1276.73 L596.18,1275.81 L597.37,1274.89 L598.56,1273.96 L599.75,1273.04 L600.94,1272.12 L602.12,1271.20 L603.31,1270.27 L604.50,1269.35 L605.69,1268.43 L606.88,1267.50 L608.06,1266.58 L609.25,1265.65 L610.44,1264.73 L611.62,1263.80 L612.81,1262.88 L613.99,1261.95 L615.18,1261.03 L616.36,1260.10 L617.55,1259.17 L618.73,1258.24 L619.92,1257.32 L621.10,1256.39 L622.29,1255.46 L623.47,1254.53 L624.65,1253.60 L625.83,1252.67 L627.02,1251.74 L628.20,1250.81 L629.38,1249.88 L630.56,1248.95 L631.75,1248.02 L632.93,1247.09 L634.11,1246.15 L635.29,1245.22 L636.47,1244.29 L637.65,1243.36 L638.83,1242.42 L640.01,1241.49 L641.19,1240.56 L642.37,1239.62 L643.55,1238.69 L644.73,1237.76 L645.91,1236.82 L647.09,1235.89 L648.27,1234.95 L649.45,1234.02 L650.62,1233.08 L651.80,1232.15 L652.98,1231.21 L654.16,1230.28 L655.34,1229.34 L656.52,1228.41 L657.69,1227.47 L658.87,1226.54 L660.05,1225.60 L661.23,1224.66 L662.41,1223.73 L663.58,1222.79 L664.76,1221.86 L665.94,1220.92 L667.12,1219.98 L668.29,1219.05 L669.47,1218.11 L670.65,1217.17 L671.83,1216.24 L673.00,1215.30 L674.18,1214.37 L675.36,1213.43 L676.54,1212.49 L677.71,1211.56 L678.89,1210.62 L680.07,1209.69 L681.25,1208.75 L682.42,1207.81 L683.60,1206.88 L684.78,1205.94 L685.96,1205.01 L687.13,1204.07 L688.31,1203.13 L689.49,1202.20 L690.67,1201.26 L691.85,1200.33 L693.02,1199.39 L694.20,1198.46 L695.38,1197.53 L696.56,1196.59 L697.74,1195.66 L698.92,1194.72 L700.10,1193.79 L701.28,1192.86 L702.45,1191.92 L703.63,1190.99 L704.81,1190.06 L705.99,1189.12 L707.17,1188.19 L708.35,1187.26 L709.53,1186.33 L710.71,1185.40 L711.90,1184.46 L713.08,1183.53 L714.26,1182.60 L715.44,1181.67 L716.62,1180.74 L717.80,1179.81 L718.98,1178.88 L720.17,1177.95 L721.35,1177.03 L722.53,1176.10 L723.72,1175.17 L724.90,1174.24 L726.08,1173.32 L727.27,1172.39 L728.45,1171.46 L729.64,1170.54 L730.82,1169.61 L732.01,1168.69 L733.19,1167.76 L734.38,1166.84 L735.57,1165.91 L736.75,1164.99 L737.94,1164.07 L739.13,1163.15 L740.31,1162.22 L741.50,1161.30 L742.69,1160.38 L743.88,1159.46 L745.07,1158.54 L746.26,1157.62 L747.45,1156.71 L748.64,1155.79 L749.83,1154.87 L751.02,1153.95 L752.21,1153.04 L753.41,1152.12 L754.60,1151.21 L755.79,1150.29 L756.98,1149.38 L758.18,1148.47 L759.37,1147.55 L760.57,1146.64 L761.76,1145.73 L762.96,1144.82 L764.16,1143.91 L765.35,1143.00 L766.55,1142.09 L767.75,1141.18 L768.95,1140.28 L770.15,1139.37 L771.35,1138.47 L772.55,1137.56 L773.75,1136.66 L774.95,1135.75 L776.15,1134.85 L777.35,1133.95 L778.55,1133.05 L779.76,1132.15 L780.96,1131.25 L782.17,1130.35 L783.37,1129.45 L784.58,1128.55 L785.79,1127.66 L786.99,1126.76 L788.20,1125.87 L789.41,1124.97 L790.62,1124.08 L791.83,1123.19 L793.04,1122.30 L794.25,1121.41 L795.46,1120.52 L796.67,1119.63 L797.89,1118.74 L799.10,1117.86 L800.31,1116.97 L801.53,1116.09 L802.74,1115.20 L803.96,1114.32 L805.18,1113.44 L806.40,1112.56 L807.62,1111.68 L808.84,1110.80 L810.06,1109.92 L811.28,1109.04 L812.50,1108.17 L813.72,1107.29 L814.94,1106.42 L816.17,1105.55 L817.39,1104.68 L818.62,1103.80 L819.84,1102.94 L821.07,1102.07 L822.30,1101.20 L823.53,1100.33 L824.76,1099.47 L825.99,1098.60 L827.22,1097.74 L828.45,1096.88 L829.69,1096.02 L830.92,1095.16 L832.15,1094.30 L833.39,1093.44 L834.63,1092.59 L835.86,1091.73 L837.10,1090.88 L838.34,1090.03 L839.58,1089.18 L840.82,1088.33 L842.07,1087.48 L843.31,1086.63 L844.55,1085.78 L845.80,1084.94 L847.04,1084.10 L848.29,1083.25 L849.54,1082.41 L850.79,1081.57 L852.03,1080.73 L853.29,1079.90 L854.54,1079.06 L855.79,1078.23 L857.04,1077.39 L858.30,1076.56 L859.55,1075.73 L860.81,1074.90 L862.07,1074.07 L863.33,1073.25 L864.58,1072.42 L865.85,1071.60 L867.11,1070.77 L868.37,1069.95 L869.63,1069.13 L870.90,1068.32 L872.16,1067.50 L873.43,1066.68 L874.70,1065.87 L875.97,1065.06 L877.24,1064.25 L878.51,1063.44 L879.78,1062.63 L881.06,1061.82 L882.33,1061.02 L883.61,1060.22 L884.89,1059.41 L886.16,1058.61 L887.44,1057.82 L888.72,1057.02 L890.01,1056.22 L891.29,1055.43 L892.57,1054.64 L893.86,1053.84 L895.14,1053.06 L896.43,1052.27 L897.72,1051.48 L899.00,1050.69 L900.29,1049.91 L901.58,1049.13 L902.87,1048.35 L904.16,1047.57 L905.45,1046.79 L906.74,1046.01 L908.04,1045.23 L909.33,1044.46 L910.62,1043.68 L911.91,1042.91 L913.20,1042.13 L914.49,1041.36 L915.79,1040.59 L917.08,1039.82 L918.37,1039.05 L919.66,1038.29 L920.95,1037.52 L922.24,1036.75 L923.53,1035.99 L924.82,1035.22 L926.11,1034.46 L927.40,1033.70 L928.68,1032.94 L929.97,1032.18 L931.26,1031.41 L932.54,1030.65 L933.83,1029.89 L935.11,1029.14 L936.39,1028.38 L937.67,1027.63 L938.96,1026.88 L940.24,1026.15 L941.53,1025.43 L942.83,1024.72 L944.12,1024.03 L945.42,1023.36 L946.73,1022.72 L948.05,1022.10 L949.37,1021.50 L950.70,1020.94 L952.04,1020.41 L953.40,1019.91 L954.76,1019.45 L956.13,1019.04 L957.52,1018.66 L958.92,1018.33 L960.34,1018.05 L961.76,1017.82 L963.21,1017.63 L964.66,1017.48 L966.13,1017.37 L967.60,1017.28 L969.08,1017.22 L970.57,1017.18 L972.06,1017.16 L973.56,1017.15 L975.06,1017.15 L976.56,1017.15 L978.06,1017.15 L979.55,1017.14 L981.05,1017.12 L982.54,1017.10 L984.03,1017.06 L985.52,1017.00 L986.99,1016.92 L988.47,1016.83 L989.93,1016.70 L991.39,1016.55 L992.84,1016.37 L994.28,1016.16 L995.71,1015.91 L997.12,1015.62 L998.53,1015.29 L999.92,1014.91 L1001.30,1014.49 L1002.66,1014.02 L1004.01,1013.49 L1005.35,1012.92 L1006.66,1012.30 L1007.97,1011.63 L1009.26,1010.92 L1010.54,1010.17 L1011.81,1009.38 L1013.06,1008.56 L1014.30,1007.70 L1015.53,1006.81 L1016.74,1005.89 L1017.95,1004.94 L1019.14,1003.97 L1020.33,1002.98 L1021.50,1001.96 L1022.66,1000.93 L1023.81,999.87 L1024.96,998.80 L1026.09,997.72 L1027.21,996.62 L1028.32,995.51 L1029.41,994.39 L1030.50,993.26 L1031.58,992.12 L1032.64,990.97 L1033.70,989.82 L1034.74,988.67 L1035.77,987.51 L1036.79,986.35 L1037.79,985.19 L1038.79,984.03 L1039.77,982.88 L1040.74,981.73 L1041.70,980.58 L1042.65,979.44 L1043.58,978.31 L1044.50,977.19 L1045.41,976.09 L1046.31,974.99 L1047.19,973.91 L1048.06,972.84 L1048.92,971.79 L1049.76,970.75 L1050.59,969.74" fill="none" stroke="#000" stroke-width="3.7" stroke-linejoin="round" stroke-linecap="round"/>
<path d="M1050.12,968.97 L1049.63,970.48 L1049.07,971.94 L1048.44,973.34 L1047.74,974.69 L1046.98,975.98 L1046.15,977.22 L1045.27,978.40 L1044.34,979.54 L1043.35,980.64 L1042.32,981.68 L1041.24,982.69 L1040.11,983.65 L1038.95,984.57 L1037.76,985.45 L1036.53,986.30 L1035.27,987.11 L1033.98,987.89 L1032.67,988.63 L1031.34,989.34 L1029.99,990.03 L1028.62,990.69 L1027.25,991.32 L1025.86,991.93 L1024.47,992.53 L1023.07,993.11 L1021.66,993.68 L1020.26,994.24 L1018.85,994.80 L1017.45,995.36 L1016.05,995.92 L1014.66,996.49 L1013.28,997.07 L1011.90,997.66 L1010.54,998.26 L1009.20,998.89 L1007.87,999.54 L1006.56,1000.22 L1005.28,1000.93 L1004.01,1001.67 L1002.77,1002.45 L1001.56,1003.27 L1000.38,1004.13 L999.22,1005.03 L998.08,1005.96 L996.97,1006.92 L995.88,1007.92 L994.80,1008.94 L993.74,1009.99 L992.70,1011.07 L991.68,1012.16 L990.66,1013.27 L989.66,1014.40 L988.66,1015.54 L987.67,1016.70 L986.69,1017.86 L985.71,1019.03 L984.74,1020.21 L983.77,1021.38 L982.79,1022.56 L981.81,1023.73 L980.83,1024.90 L979.85,1026.06 L978.86,1027.22 L977.86,1028.36 L976.86,1029.50 L975.85,1030.63 L974.84,1031.75 L973.82,1032.87 L972.80,1033.98 L971.77,1035.08 L970.74,1036.18 L969.70,1037.27 L968.66,1038.36 L967.62,1039.44 L966.58,1040.52 L965.53,1041.60 L964.48,1042.67 L963.42,1043.73 L962.36,1044.79 L961.31,1045.85 L960.24,1046.91 L959.18,1047.96 L958.12,1049.02 L957.05,1050.07 L955.98,1051.11 L954.92,1052.16 L953.85,1053.21 L952.78,1054.25 L951.71,1055.29 L950.64,1056.34 L949.57,1057.38 L948.50,1058.43 L947.43,1059.47 L946.36,1060.52 L945.29,1061.57 L944.23,1062.62 L943.16,1063.66 L942.09,1064.71 L941.03,1065.76 L939.96,1066.81 L938.90,1067.87 L937.83,1068.92 L936.77,1069.97 L935.71,1071.03 L934.64,1072.08 L933.58,1073.14 L932.52,1074.19 L931.46,1075.25 L930.40,1076.31 L929.34,1077.36 L928.28,1078.42 L927.22,1079.48 L926.16,1080.54 L925.10,1081.60 L924.05,1082.67 L922.99,1083.73 L921.93,1084.79 L920.88,1085.85 L919.82,1086.92 L918.76,1087.98 L917.71,1089.05 L916.65,1090.12 L915.60,1091.18 L914.55,1092.25 L913.49,1093.32 L912.44,1094.39 L911.39,1095.46 L910.34,1096.52 L909.29,1097.60 L908.24,1098.67 L907.19,1099.74 L906.14,1100.81 L905.09,1101.88 L904.04,1102.96 L902.99,1104.03 L901.94,1105.10 L900.89,1106.18 L899.84,1107.25 L898.80,1108.33 L897.75,1109.41 L896.70,1110.48 L895.66,1111.56 L894.61,1112.64 L893.57,1113.72 L892.52,1114.80 L891.48,1115.88 L890.43,1116.96 L889.39,1118.04 L888.35,1119.12 L887.30,1120.20 L886.26,1121.28 L885.22,1122.37 L884.18,1123.45 L883.13,1124.53 L882.09,1125.62 L881.05,1126.70 L880.01,1127.78 L878.97,1128.87 L877.93,1129.96 L876.89,1131.04 L875.85,1132.13 L874.81,1133.21 L873.77,1134.30 L872.73,1135.39 L871.70,1136.48 L870.66,1137.57 L869.62,1138.65 L868.58,1139.74 L867.54,1140.83 L866.51,1141.92 L865.47,1143.01 L864.43,1144.10 L863.40,1145.19 L862.36,1146.29 L861.33,1147.38 L860.29,1148.47 L859.26,1149.56 L858.22,1150.65 L857.19,1151.75 L856.15,1152.84 L855.12,1153.93 L854.09,1155.03 L853.05,1156.12 L852.02,1157.22 L850.99,1158.31 L849.95,1159.41 L848.92,1160.50 L847.89,1161.60 L846.85,1162.69 L845.82,1163.79 L844.79,1164.88 L843.76,1165.98 L842.73,1167.08 L841.70,1168.17 L840.66,1169.27 L839.63,1170.37 L838.60,1171.47 L837.57,1172.56 L836.54,1173.66 L835.51,1174.76 L834.48,1175.86 L833.45,1176.96 L832.42,1178.05 L831.39,1179.15 L830.36,1180.25 L829.33,1181.35 L828.30,1182.45 L827.27,1183.55 L826.25,1184.65 L825.22,1185.75 L824.19,1186.85 L823.16,1187.95 L822.13,1189.05 L821.10,1190.15 L820.07,1191.25 L819.05,1192.35 L818.02,1193.45 L816.99,1194.55 L815.96,1195.65 L814.93,1196.75 L813.91,1197.85 L812.88,1198.95 L811.85,1200.05 L810.82,1201.16 L809.80,1202.26 L808.77,1203.36 L807.74,1204.46 L806.71,1205.56 L805.69,1206.66 L804.66,1207.76 L803.63,1208.86 L802.61,1209.97 L801.58,1211.07 L800.55,1212.17 L799.53,1213.27 L798.50,1214.37 L797.47,1215.47 L796.45,1216.57 L795.42,1217.67 L794.39,1218.78 L793.37,1219.88 L792.34,1220.98 L791.31,1222.08 L790.29,1223.18 L789.26,1224.28 L788.23,1225.38 L787.20,1226.48 L786.18,1227.58 L785.15,1228.68 L784.12,1229.78 L783.10,1230.88 L782.07,1231.98 L781.04,1233.08 L780.02,1234.18 L778.99,1235.28 L777.96,1236.38 L776.94,1237.48 L775.91,1238.58 L774.88,1239.68 L773.86,1240.78 L772.83,1241.88 L771.80,1242.98 L770.77,1244.08 L769.75,1245.18 L768.72,1246.28 L767.69,1247.38 L766.66,1248.47 L765.64,1249.57 L764.61,1250.67 L763.58,1251.77 L762.55,1252.86 L761.52,1253.96 L760.50,1255.06 L759.47,1256.15 L758.44,1257.25 L757.41,1258.35 L756.38,1259.44 L755.35,1260.54 L754.32,1261.63 L753.29,1262.73 L752.27,1263.83 L751.24,1264.92 L750.21,1266.01 L749.18,1267.11 L748.15,1268.20 L747.12,1269.30 L746.09,1270.39 L745.06,1271.48 L744.03,1272.57 L743.00,1273.67 L741.96,1274.76 L740.93,1275.85 L739.90,1276.94 L738.87,1278.03 L737.84,1279.12 L736.81,1280.21 L735.78,1281.30 L734.74,1282.39 L733.71,1283.48 L732.68,1284.57 L731.65,1285.66 L730.61,1286.75 L729.58,1287.84 L728.55,1288.92 L727.51,1290.01 L726.48,1291.10 L725.45,1292.18 L724.41,1293.27 L723.38,1294.35 L722.34,1295.44 L721.31,1296.52 L720.27,1297.61 L719.24,1298.69 L718.20,1299.77 L717.17,1300.86 L716.13,1301.94 L715.09,1303.02 L714.06,1304.10 L713.02,1305.18 L711.98,1306.26 L710.94,1307.34 L709.91,1308.42 L708.87,1309.50 L707.83,1310.58 L706.79,1311.66 L705.75,1312.73 L704.71,1313.81 L703.67,1314.89 L702.63,1315.96 L701.59,1317.04 L700.55,1318.11 L699.51,1319.19 L698.47,1320.26 L697.43,1321.33 L696.39,1322.41 L695.34,1323.48 L694.30,1324.55 L693.26,1325.62 L692.22,1326.69 L691.17,1327.76 L690.13,1328.83 L689.09,1329.90 L688.04,1330.97 L687.00,1332.04 L685.95,1333.11 L684.91,1334.18 L683.86,1335.25 L682.82,1336.31 L681.77,1337.38 L680.73,1338.45 L679.68,1339.52 L678.64,1340.59 L677.59,1341.65 L676.55,1342.72 L675.50,1343.79 L674.46,1344.85 L673.41,1345.92 L672.37,1346.99 L671.32,1348.06 L670.27,1349.12 L669.23,1350.19 L668.18,1351.26 L667.14,1352.33 L666.09,1353.40 L665.04,1354.46 L664.00,1355.53 L662.95,1356.60 L661.91,1357.67 L660.86,1358.74 L659.82,1359.81 L658.77,1360.88 L657.72,1361.95 L656.68,1363.02 L655.63,1364.09 L654.59,1365.16 L653.54,1366.23 L652.50,1367.30 L651.45,1368.38 L650.41,1369.45 L649.36,1370.52 L648.32,1371.60 L647.28,1372.67 L646.23,1373.75 L645.19,1374.82 L644.14,1375.90 L643.10,1376.97 L642.06,1378.05 L641.01,1379.13 L639.97,1380.21 L638.93,1381.29 L637.89,1382.37 L636.85,1383.45 L635.80,1384.53 L634.76,1385.61 L633.72,1386.70 L632.68,1387.78 L631.64,1388.87 L630.60,1389.95 L629.56,1391.04 L628.52,1392.13 L627.48,1393.22 L626.45,1394.31 L625.41,1395.40 L624.37,1396.49 L623.33,1397.58 L622.30,1398.68 L621.26,1399.77 L620.22,1400.87 L619.19,1401.97 L618.15,1403.07 L617.12,1404.17 L616.09,1405.27 L615.05,1406.37 L614.02,1407.47 L612.99,1408.58 L611.96,1409.68 L610.92,1410.79 L609.89,1411.90 L608.86,1413.01 L607.83,1414.12 L606.80,1415.23 L605.78,1416.35 L604.75,1417.46 L603.72,1418.58 L602.69,1419.70 L601.67,1420.82 L600.64,1421.94 L599.62,1423.06 L598.59,1424.19 L597.57,1425.32 L596.55,1426.44 L595.53,1427.57 L594.50,1428.70 L593.48,1429.84 L592.46,1430.97 L591.45,1432.11 L590.43,1433.25 L589.41,1434.39 L588.39,1435.53 L587.38,1436.67 L586.36,1437.82 L585.35,1438.97 L584.33,1440.11 L583.32,1441.27 L582.31,1442.42 L581.30,1443.57 L580.29,1444.73 L579.28,1445.89 L578.27,1447.05 L577.26,1448.21 L576.25,1449.38 L575.25,1450.55 L574.24,1451.71 L573.24,1452.89 L572.23,1454.06 L571.23,1455.24 L570.23,1456.41 L569.23,1457.59 L568.23,1458.78 L567.23,1459.96 L566.23,1461.14 L565.23,1462.31 L564.22,1463.46 L563.21,1464.60 L562.18,1465.72 L561.16,1466.82 L560.12,1467.89 L559.06,1468.92 L558.00,1469.92 L556.92,1470.87 L555.83,1471.78 L554.71,1472.64 L553.58,1473.45 L552.43,1474.20 L551.26,1474.88 L550.06,1475.51 L548.84,1476.06 L547.59,1476.53 L546.35,1476.91 L545.12,1477.16 L543.95,1477.28 L542.83,1477.24 L541.76,1477.06 L540.75,1476.75 L539.79,1476.31 L538.88,1475.74 L538.01,1475.07 L537.18,1474.28 L536.39,1473.40 L535.63,1472.43 L534.91,1471.37 L534.22,1470.23 L533.55,1469.02 L532.91,1467.76 L532.29,1466.43 L531.69,1465.06 L531.11,1463.65 L530.53,1462.20 L529.97,1460.73 L529.42,1459.24 L528.86,1457.74 L528.32,1456.23 L527.77,1454.71 L527.22,1453.19 L526.68,1451.67 L526.13,1450.14 L525.59,1448.61 L525.05,1447.08 L524.50,1445.54 L523.95,1444.01 L523.41,1442.47 L522.86,1440.93 L522.30,1439.40 L521.75,1437.87 L521.19,1436.34 L520.62,1434.81 L520.05,1433.29 L519.48,1431.77 L518.90,1430.26 L518.31,1428.76 L517.72,1427.26 L517.12,1425.77 L516.51,1424.29 L515.90,1422.81 L515.27,1421.35 L514.64,1419.90 L514.00,1418.46 L513.35,1417.03 L512.69,1415.61 L512.01,1414.21 L511.33,1412.82 L510.63,1411.45 L509.93,1410.09 L509.21,1408.75 L508.47,1407.43 L507.73,1406.12 L506.96,1404.84 L506.19,1403.57 L505.40,1402.32 L504.59,1401.09 L503.77,1399.89 L502.93,1398.70 L502.08,1397.54 L501.20,1396.40 L500.31,1395.29 L499.41,1394.20 L498.48,1393.14 L497.53,1392.11 L496.56,1391.10 L495.58,1390.12 L494.57,1389.16 L493.54,1388.24 L492.49,1387.35 L491.42,1386.49 L490.33,1385.66 L489.21,1384.86 L488.07,1384.10 L486.90,1383.36 L485.71,1382.67 L484.50,1382.01 L483.26,1381.38 L482.00,1380.79 L480.71,1380.24 L479.39,1379.72 L478.05,1379.24 L476.69,1378.79 L475.31,1378.38 L473.90,1377.99 L472.48,1377.64 L471.04,1377.33 L469.58,1377.04 L468.11,1376.78 L466.62,1376.55 L465.12,1376.34 L463.60,1376.16 L462.07,1376.01 L460.53,1375.89 L458.98,1375.79 L457.42,1375.71 L455.86,1375.65 L454.29,1375.62 L452.71,1375.61 L451.13,1375.61 L449.54,1375.64 L447.95,1375.69 L446.36,1375.75 L444.77,1375.83 L443.18,1375.92 L441.59,1376.04 L440.00,1376.16 L438.42,1376.30 L436.84,1376.45 L435.27,1376.62 L433.71,1376.79 L432.15,1376.98 L430.61,1377.17 L429.07,1377.38 L427.54,1377.59 L426.02,1377.81 L424.52,1378.04 L423.02,1378.27 L421.53,1378.52 L420.05,1378.77 L418.57,1379.03 L417.10,1379.29 L415.64,1379.57 L414.19,1379.85 L412.74,1380.13 L411.30,1380.43 L409.87,1380.73 L408.43,1381.04 L407.01,1381.35 L405.58,1381.67 L404.17,1382.00 L402.75,1382.33 L401.34,1382.66 L399.93,1383.01 L398.52,1383.36 L397.11,1383.71 L395.71,1384.07 L394.30,1384.43 L392.90,1384.80 L391.49,1385.18 L390.09,1385.56 L388.68,1385.94 L387.28,1386.33 L385.87,1386.72 L384.46,1387.11 L383.05,1387.51 L381.63,1387.92 L380.21,1388.33 L378.79,1388.74 L377.37,1389.15 L375.94,1389.57 L374.50,1389.99 L373.06,1390.41 L371.62,1390.84 L370.16,1391.27 L368.70,1391.70 L367.24,1392.14 L365.77,1392.57 L364.29,1393.01 L362.80,1393.45 L361.30,1393.90 L359.80,1394.34 L358.28,1394.79 L356.76,1395.24 L355.22,1395.69" fill="none" stroke="#000" stroke-width="3.7" stroke-linejoin="round" stroke-linecap="round"/>
<path d="M1383.87,1527.23 L1383.97,1525.70 L1384.07,1524.18 L1384.17,1522.65 L1384.27,1521.13 L1384.37,1519.60 L1384.46,1518.08 L1384.56,1516.56 L1384.65,1515.04 L1384.74,1513.52 L1384.83,1512.00 L1384.92,1510.48 L1385.01,1508.96 L1385.10,1507.44 L1385.18,1505.92 L1385.27,1504.40 L1385.35,1502.88 L1385.43,1501.37 L1385.51,1499.85 L1385.59,1498.34 L1385.67,1496.82 L1385.74,1495.31 L1385.82,1493.79 L1385.89,1492.28 L1385.97,1490.77 L1386.04,1489.25 L1386.11,1487.74 L1386.18,1486.23 L1386.25,1484.72 L1386.32,1483.21 L1386.38,1481.70 L1386.45,1480.19 L1386.51,1478.68 L1386.58,1477.17 L1386.64,1475.66 L1386.70,1474.16 L1386.77,1472.65 L1386.83,1471.14 L1386.89,1469.63 L1386.94,1468.13 L1387.00,1466.62 L1387.06,1465.12 L1387.12,1463.61 L1387.17,1462.11 L1387.23,1460.60 L1387.28,1459.10 L1387.33,1457.60 L1387.39,1456.10 L1387.44,1454.59 L1387.49,1453.09 L1387.54,1451.59 L1387.59,1450.09 L1387.64,1448.59 L1387.69,1447.09 L1387.73,1445.59 L1387.78,1444.09 L1387.83,1442.59 L1387.88,1441.09 L1387.92,1439.59 L1387.97,1438.09 L1388.01,1436.59 L1388.06,1435.09 L1388.10,1433.59 L1388.14,1432.10 L1388.19,1430.60 L1388.23,1429.10 L1388.27,1427.60 L1388.31,1426.11 L1388.35,1424.61 L1388.39,1423.12 L1388.44,1421.62 L1388.48,1420.12 L1388.52,1418.63 L1388.56,1417.13 L1388.60,1415.64 L1388.63,1414.14 L1388.67,1412.65 L1388.71,1411.16 L1388.75,1409.66 L1388.79,1408.17 L1388.83,1406.67 L1388.87,1405.18 L1388.90,1403.69 L1388.94,1402.19 L1388.98,1400.70 L1389.02,1399.21 L1389.06,1397.72 L1389.09,1396.22 L1389.13,1394.73 L1389.17,1393.24 L1389.21,1391.75 L1389.24,1390.25 L1389.28,1388.76 L1389.32,1387.27 L1389.36,1385.78 L1389.40,1384.29 L1389.43,1382.80 L1389.47,1381.31 L1389.51,1379.81 L1389.55,1378.32 L1389.59,1376.83 L1389.63,1375.34 L1389.67,1373.85 L1389.70,1372.36 L1389.74,1370.87 L1389.78,1369.38 L1389.82,1367.89 L1389.86,1366.40 L1389.91,1364.91 L1389.95,1363.42 L1389.99,1361.92 L1390.03,1360.43 L1390.07,1358.94 L1390.11,1357.45 L1390.16,1355.96 L1390.20,1354.47 L1390.24,1352.98 L1390.29,1351.49 L1390.33,1350.00 L1390.38,1348.51 L1390.42,1347.02 L1390.47,1345.53 L1390.52,1344.04 L1390.56,1342.55 L1390.61,1341.06 L1390.66,1339.56 L1390.71,1338.07 L1390.76,1336.58 L1390.81,1335.09 L1390.86,1333.60 L1390.91,1332.11 L1390.96,1330.62 L1391.02,1329.12 L1391.07,1327.63 L1391.13,1326.14 L1391.18,1324.65 L1391.24,1323.16 L1391.29,1321.66 L1391.35,1320.17 L1391.41,1318.68 L1391.47,1317.19 L1391.53,1315.69 L1391.59,1314.20 L1391.65,1312.71 L1391.72,1311.22 L1391.78,1309.72 L1391.85,1308.23 L1391.91,1306.73 L1391.98,1305.24 L1392.05,1303.75 L1392.12,1302.25 L1392.19,1300.76 L1392.26,1299.26 L1392.33,1297.77 L1392.40,1296.27 L1392.48,1294.78 L1392.55,1293.28 L1392.63,1291.78 L1392.70,1290.29 L1392.78,1288.79 L1392.86,1287.29 L1392.94,1285.80 L1393.03,1284.30 L1393.11,1282.80 L1393.20,1281.30 L1393.28,1279.81 L1393.37,1278.31 L1393.46,1276.81 L1393.55,1275.31 L1393.64,1273.81 L1393.73,1272.31 L1393.83,1270.81 L1393.92,1269.31 L1394.02,1267.81 L1394.12,1266.31 L1394.22,1264.81 L1394.32,1263.30 L1394.42,1261.80 L1394.52,1260.30 L1394.63,1258.80 L1394.74,1257.29 L1394.84,1255.79 L1394.96,1254.28 L1395.07,1252.78 L1395.18,1251.27 L1395.30,1249.77 L1395.41,1248.26 L1395.53,1246.76 L1395.65,1245.25 L1395.77,1243.74 L1395.89,1242.24 L1396.02,1240.73 L1396.15,1239.22 L1396.27,1237.71 L1396.40,1236.20 L1396.54,1234.69 L1396.67,1233.18 L1396.81,1231.67 L1396.94,1230.16 L1397.08,1228.65 L1397.22,1227.14 L1397.37,1225.62 L1397.51,1224.11 L1397.66,1222.60 L1397.81,1221.08 L1397.96,1219.57 L1398.11,1218.05 L1398.26,1216.54 L1398.42,1215.02 L1398.58,1213.51 L1398.74,1211.99 L1398.90,1210.47 L1399.07,1208.95 L1399.23,1207.43 L1399.40,1205.91 L1399.57,1204.39 L1399.75,1202.87 L1399.92,1201.35 L1400.10,1199.83 L1400.28,1198.31 L1400.46,1196.78 L1400.64,1195.26 L1400.83,1193.74 L1401.02,1192.21 L1401.21,1190.69 L1401.40,1189.16 L1401.60,1187.63 L1401.79,1186.11 L1401.99,1184.58 L1402.20,1183.05 L1402.40,1181.52 L1402.61,1179.99 L1402.82,1178.46 L1403.04,1176.94 L1403.25,1175.41 L1403.47,1173.88 L1403.70,1172.35 L1403.93,1170.82 L1404.16,1169.30 L1404.40,1167.77 L1404.64,1166.25 L1404.88,1164.73 L1405.13,1163.20 L1405.38,1161.68 L1405.64,1160.16 L1405.90,1158.65 L1406.17,1157.13 L1406.44,1155.62 L1406.72,1154.10 L1407.01,1152.59 L1407.30,1151.08 L1407.59,1149.58 L1407.89,1148.07 L1408.20,1146.57 L1408.51,1145.08 L1408.83,1143.58 L1409.15,1142.09 L1409.48,1140.60 L1409.82,1139.11 L1410.17,1137.63 L1410.52,1136.15 L1410.88,1134.67 L1411.24,1133.20 L1411.61,1131.73 L1411.99,1130.27 L1412.38,1128.80 L1412.78,1127.35 L1413.18,1125.89 L1413.59,1124.45 L1414.01,1123.00 L1414.44,1121.56 L1414.87,1120.13 L1415.32,1118.70 L1415.77,1117.27 L1416.23,1115.85 L1416.70,1114.44 L1417.18,1113.03 L1417.67,1111.62 L1418.17,1110.23 L1418.68,1108.83 L1419.19,1107.45 L1419.72,1106.07 L1420.26,1104.69 L1420.80,1103.32 L1421.36,1101.96 L1421.93,1100.60 L1422.50,1099.25 L1423.09,1097.91 L1423.69,1096.57 L1424.30,1095.24 L1424.92,1093.92 L1425.55,1092.61 L1426.19,1091.30 L1426.85,1090.00 L1427.51,1088.70 L1428.19,1087.42 L1428.88,1086.14 L1429.58,1084.87 L1430.29,1083.61 L1431.02,1082.35 L1431.76,1081.11 L1432.51,1079.87 L1433.27,1078.64 L1434.04,1077.42 L1434.83,1076.21 L1435.63,1075.01 L1436.44,1073.81 L1437.26,1072.62 L1438.09,1071.45 L1438.94,1070.28 L1439.80,1069.12 L1440.66,1067.97 L1441.54,1066.82 L1442.44,1065.69 L1443.34,1064.57 L1444.25,1063.45 L1445.18,1062.35 L1446.12,1061.25 L1447.07,1060.17 L1448.03,1059.09 L1449.00,1058.02 L1449.98,1056.96 L1450.97,1055.92 L1451.97,1054.88 L1452.99,1053.85 L1454.01,1052.83 L1455.05,1051.82 L1456.09,1050.83 L1457.15,1049.84 L1458.21,1048.86 L1459.29,1047.89 L1460.38,1046.93 L1461.47,1045.99 L1462.58,1045.05 L1463.70,1044.12 L1464.83,1043.21 L1465.96,1042.30 L1467.11,1041.41 L1468.27,1040.53 L1469.43,1039.65 L1470.61,1038.79 L1471.80,1037.94 L1472.99,1037.10 L1474.20,1036.27 L1475.41,1035.46 L1476.63,1034.65 L1477.87,1033.85 L1479.11,1033.07 L1480.36,1032.29 L1481.61,1031.53 L1482.88,1030.77 L1484.15,1030.03 L1485.44,1029.30 L1486.73,1028.57 L1488.02,1027.86 L1489.33,1027.15 L1490.64,1026.46 L1491.96,1025.77 L1493.29,1025.10 L1494.63,1024.43 L1495.97,1023.77 L1497.32,1023.12 L1498.67,1022.48 L1500.03,1021.85 L1501.40,1021.23 L1502.77,1020.62 L1504.15,1020.02 L1505.54,1019.42 L1506.93,1018.83 L1508.33,1018.25 L1509.73,1017.68 L1511.14,1017.12 L1512.55,1016.57 L1513.97,1016.02 L1515.39,1015.48 L1516.82,1014.95 L1518.25,1014.43 L1519.69,1013.91 L1521.13,1013.40 L1522.57,1012.90 L1524.02,1012.41 L1525.48,1011.92 L1526.93,1011.44 L1528.39,1010.97 L1529.86,1010.51 L1531.32,1010.05 L1532.79,1009.59 L1534.26,1009.15 L1535.74,1008.71 L1537.22,1008.28 L1538.70,1007.85 L1540.18,1007.43 L1541.67,1007.01 L1543.15,1006.61 L1544.64,1006.20 L1546.14,1005.81 L1547.63,1005.41 L1549.12,1005.03 L1550.62,1004.65 L1552.12,1004.27 L1553.61,1003.90 L1555.11,1003.54 L1556.61,1003.18 L1558.11,1002.82 L1559.61,1002.47 L1561.11,1002.13 L1562.62,1001.79 L1564.12,1001.45 L1565.62,1001.12 L1567.12,1000.79 L1568.62,1000.47 L1570.12,1000.15 L1571.62,999.83 L1573.12,999.52 L1574.62,999.21 L1576.12,998.91 L1577.62,998.61 L1579.12,998.32 L1580.62,998.03 L1582.12,997.74 L1583.62,997.46 L1585.12,997.18 L1586.62,996.91 L1588.12,996.64 L1589.62,996.37 L1591.11,996.11 L1592.61,995.85 L1594.11,995.59 L1595.61,995.34 L1597.11,995.09 L1598.60,994.85 L1600.10,994.60 L1601.60,994.37 L1603.10,994.13 L1604.59,993.90 L1606.09,993.67 L1607.59,993.45 L1609.09,993.23 L1610.58,993.01 L1612.08,992.79 L1613.58,992.58 L1615.07,992.37 L1616.57,992.17 L1618.07,991.97 L1619.56,991.77 L1621.06,991.57 L1622.55,991.38 L1624.05,991.19 L1625.55,991.00 L1627.04,990.82 L1628.54,990.64 L1630.03,990.46 L1631.53,990.28 L1633.02,990.11 L1634.52,989.94 L1636.01,989.77 L1637.51,989.60 L1639.00,989.44 L1640.50,989.28 L1641.99,989.12 L1643.49,988.97 L1644.98,988.81 L1646.48,988.66 L1647.97,988.52 L1649.47,988.37 L1650.96,988.23 L1652.46,988.09 L1653.95,987.95 L1655.45,987.81 L1656.94,987.68 L1658.43,987.54 L1659.93,987.41 L1661.42,987.28 L1662.92,987.16 L1664.41,987.03 L1665.91,986.91 L1667.40,986.79 L1668.89,986.67 L1670.39,986.55 L1671.88,986.44 L1673.38,986.32 L1674.87,986.21 L1676.36,986.10 L1677.86,985.99 L1679.35,985.89 L1680.85,985.78 L1682.34,985.68 L1683.83,985.57 L1685.33,985.47 L1686.82,985.37 L1688.31,985.27 L1689.81,985.18 L1691.30,985.08 L1692.80,984.99 L1694.29,984.89 L1695.78,984.80 L1697.28,984.71 L1698.77,984.62 L1700.27,984.53 L1701.76,984.44 L1703.25,984.36 L1704.75,984.27 L1706.24,984.19 L1707.74,984.10 L1709.23,984.02 L1710.72,983.94 L1712.22,983.86 L1713.71,983.78 L1715.21,983.70 L1716.70,983.62 L1718.20,983.54 L1719.69,983.46 L1721.18,983.38 L1722.68,983.30 L1724.17,983.23 L1725.67,983.15 L1727.16,983.08 L1728.66,983.00 L1730.15,982.93 L1731.65,982.85 L1733.14,982.78 L1734.64,982.70 L1736.13,982.63 L1737.63,982.55 L1739.12,982.48 L1740.62,982.41 L1742.11,982.33 L1743.61,982.26 L1745.10,982.19 L1746.60,982.11 L1748.10,982.04 L1749.59,981.97 L1751.09,981.89 L1752.58,981.82 L1754.08,981.74 L1755.58,981.67 L1757.07,981.60 L1758.57,981.52 L1760.06,981.45 L1761.56,981.38 L1763.06,981.30 L1764.55,981.23 L1766.05,981.15 L1767.55,981.08 L1769.04,981.01 L1770.54,980.93 L1772.04,980.86 L1773.54,980.79 L1775.03,980.71 L1776.53,980.64 L1778.03,980.57 L1779.52,980.49 L1781.02,980.42 L1782.52,980.35 L1784.02,980.27 L1785.52,980.20 L1787.01,980.13 L1788.51,980.05 L1790.01,979.98 L1791.51,979.91 L1793.00,979.83 L1794.50,979.76 L1796.00,979.69 L1797.50,979.62 L1799.00,979.54 L1800.50,979.47 L1801.99,979.40 L1803.49,979.33 L1804.99,979.25 L1806.49,979.18 L1807.99,979.11 L1809.49,979.04 L1810.99,978.96 L1812.48,978.89 L1813.98,978.82 L1815.48,978.75 L1816.98,978.68 L1818.48,978.61 L1819.98,978.53 L1821.48,978.46 L1822.98,978.39 L1824.48,978.32 L1825.98,978.25 L1827.48,978.18 L1828.98,978.11 L1830.48,978.04 L1831.98,977.97 L1833.48,977.90 L1834.98,977.83 L1836.48,977.76 L1837.98,977.69 L1839.47,977.62 L1840.97,977.55 L1842.48,977.48 L1843.98,977.41 L1845.48,977.34 L1846.98,977.27 L1848.48,977.20 L1849.98,977.13 L1851.48,977.06 L1852.98,976.99 L1854.48,976.92 L1855.98,976.86 L1857.48,976.79 L1858.98,976.72 L1860.48,976.65 L1861.98,976.58 L1863.48,976.52 L1864.98,976.45 L1866.48,976.38 L1867.98,976.32 L1869.48,976.25 L1870.99,976.18 L1872.49,976.12 L1873.99,976.05 L1875.49,975.98 L1876.99,975.92 L1878.49,975.85 L1879.99,975.79 L1881.49,975.72 L1883.00,975.66 L1884.50,975.59 L1886.00,975.53 L1887.50,975.46 L1889.00,975.40 L1890.50,975.34 L1892.00,975.27 L1893.51,975.21 L1895.01,975.15 L1896.51,975.08 L1898.01,975.02 L1899.51,974.96 L1901.02,974.90 L1902.52,974.83 L1904.02,974.77 L1905.52,974.71 L1907.02,974.65 L1908.52,974.59 L1910.03,974.53 L1911.53,974.47 L1913.03,974.41 L1914.53,974.35 L1916.04,974.29 L1917.54,974.23 L1919.04,974.17 L1920.54,974.11 L1922.04,974.05 L1923.55,973.99 L1925.05,973.93 L1926.55,973.88 L1928.05,973.82 L1929.56,973.76 L1931.06,973.70 L1932.56,973.65 L1934.06,973.59 L1935.57,973.53 L1937.07,973.48 L1938.57,973.42 L1940.07,973.37 L1941.58,973.31 L1943.08,973.26 L1944.58,973.20 L1946.08,973.15 L1947.59,973.09 L1949.09,973.04 L1950.59,972.99 L1952.10,972.94 L1953.60,972.88 L1955.10,972.83 L1956.60,972.78 L1958.11,972.73 L1959.61,972.68 L1961.11,972.62 L1962.62,972.57 L1964.12,972.52 L1965.62,972.47 L1967.13,972.42 L1968.63,972.38 L1970.13,972.33 L1971.63,972.28 L1973.14,972.23 L1974.64,972.18 L1976.14,972.13 L1977.65,972.09 L1979.15,972.04 L1980.65,971.99 L1982.16,971.95 L1983.66,971.90 L1985.16,971.86 L1986.67,971.81 L1988.17,971.77 L1989.67,971.72 L1991.18,971.68 L1992.68,971.64 L1994.18,971.59 L1995.68,971.55 L1997.19,971.51 L1998.69,971.47 L2000.19,971.43 L2001.70,971.39 L2003.20,971.35 L2004.70,971.30 L2006.21,971.27 L2007.71,971.23 L2009.21,971.19 L2010.72,971.15 L2012.22,971.11 L2013.72,971.07 L2015.23,971.04 L2016.73,971.00 L2018.23,970.96 L2019.74,970.93 L2021.24,970.89 L2022.74,970.86 L2024.25,970.82 L2025.75,970.79 L2027.25,970.75 L2028.76,970.72 L2030.26,970.69 L2031.76,970.65 L2033.27,970.62 L2034.77,970.59 L2036.27,970.56 L2037.78,970.53 L2039.28,970.50 L2040.78,970.47 L2042.29,970.44 L2043.79,970.41 L2045.29,970.38 L2046.80,970.35 L2048.30,970.33 L2049.80,970.30 L2051.31,970.27 L2052.81,970.25 L2054.31,970.22 L2055.82,970.20 L2057.32,970.17 L2058.82,970.15 L2060.32,970.12 L2061.83,970.10 L2063.33,970.08 L2064.83,970.06 L2066.34,970.03 L2067.84,970.01 L2069.34,969.99 L2070.85,969.97 L2072.35,969.95 L2073.85,969.93 L2075.36,969.92 L2076.86,969.90 L2078.36,969.88 L2079.86,969.86 L2081.37,969.85 L2082.87,969.83 L2084.37,969.82 L2085.88,969.80 L2087.38,969.79 L2088.88,969.77 L2090.38,969.76 L2091.89,969.75 L2093.39,969.74 L2094.89,969.72 L2096.40,969.71 L2097.90,969.70 L2099.40,969.69 L2100.90,969.68 L2102.41,969.67 L2103.91,969.67 L2105.41,969.66 L2106.91,969.65 L2108.42,969.65 L2109.92,969.64 L2111.42,969.63 L2112.92,969.63 L2114.43,969.63 L2115.93,969.62 L2117.43,969.62 L2118.93,969.62 L2120.44,969.61 L2121.94,969.61 L2123.44,969.61 L2124.94,969.61 L2126.44,969.61 L2127.95,969.61 L2129.45,969.62 L2130.95,969.62 L2132.45,969.62 L2133.96,969.62 L2135.46,969.63 L2136.96,969.63 L2138.46,969.64 L2139.96,969.65 L2141.46,969.65 L2142.97,969.66 L2144.47,969.67 L2145.97,969.68 L2147.47,969.69 L2148.97,969.70 L2150.47,969.71 L2151.98,969.72 L2153.48,969.73 L2154.98,969.74 L2156.48,969.75 L2157.98,969.77 L2159.48,969.78 L2160.98,969.80 L2162.49,969.81 L2163.99,969.83 L2165.49,969.85 L2166.99,969.86 L2168.49,969.88 L2169.99,969.90" fill="none" stroke="#000" stroke-width="3.7" stroke-linejoin="round" stroke-linecap="round"/>
<path d="M2170.3,969.5 L2170.8,977" fill="none" stroke="#000" stroke-width="3.6" stroke-linecap="round"/>
<path d="M567.4,224.9L650.4,113.4M779.7,433.5L888.7,311.2M528,1510.3L582.5,1444.8" stroke="#ff0000" stroke-width="2.7" fill="none"/>
<path d="M1959.2,227.7L1972.6,243.8" stroke="#000" stroke-width="2.4"/>
<path d="M1981.5,254.6 L1976.1,240.9 L1969.1,246.7 Z" fill="#000"/>
<path d="M91.5,901.8H96.5M126.5,901.8H131" stroke="#d8d8d8" stroke-width="1.6"/>
<text transform="matrix(0.6250 0.0000 0.0000 0.6067 27.9000 75.8600)" font-size="100" font-weight="bold">(a)</text>
<text transform="matrix(0.4447 0.0000 0.0000 0.4706 106.1212 100.5588)" font-size="100">0.063</text>
<text transform="matrix(0.4539 0.0000 0.0000 0.4618 106.0843 231.8765)" font-size="100">0.060</text>
<text transform="matrix(0.4500 0.0000 0.0000 0.4647 106.1000 362.0706)" font-size="100">0.057</text>
<text transform="matrix(0.4459 0.0000 0.0000 0.4647 106.1164 493.3706)" font-size="100">0.054</text>
<text transform="matrix(0.4358 0.0000 0.0000 0.4765 106.1567 625.9471)" font-size="100">0.051</text>
<text transform="matrix(0.4500 0.0000 0.0000 0.4574 219.0000 754.4853)" font-size="100">600</text>
<text transform="matrix(0.4507 0.0000 0.0000 0.4574 461.0957 754.4853)" font-size="100">700</text>
<text transform="matrix(0.4415 0.0000 0.0000 0.4574 704.9338 754.4853)" font-size="100">800</text>
<text transform="matrix(0.4427 0.0000 0.0000 0.4574 946.7720 754.4853)" font-size="100">900</text>
<text transform="matrix(0.5433 0.0000 0.0000 0.5402 601.8133 806.7561)" font-size="100">T, °C</text>
<text transform="matrix(0.0000 -0.5369 0.5632 0.0000 88.6724 459.4475)" font-size="100">ΔL, μm</text>
<text transform="matrix(0.3298 0.0000 0.0000 0.3412 501.5212 183.3176)" font-size="100" fill="#ff0000">740°C</text>
<text transform="matrix(0.3259 0.0000 0.0000 0.3471 864.2964 379.9059)" font-size="100" fill="#ff0000">840°C</text>
<text transform="matrix(0.6114 0.0000 0.0000 0.5978 1169.5544 82.1467)" font-size="100" font-weight="bold">(b)</text>
<text transform="matrix(0.4391 0.0000 0.0000 0.4382 1245.0436 117.0235)" font-size="100">0.014</text>
<text transform="matrix(0.4431 0.0000 0.0000 0.4162 1245.0275 238.3676)" font-size="100">0.007</text>
<text transform="matrix(0.4465 0.0000 0.0000 0.4279 1244.8138 360.3441)" font-size="100">0.000</text>
<text transform="matrix(0.4438 0.0000 0.0000 0.4279 1230.3247 482.5441)" font-size="100">-0.007</text>
<text transform="matrix(0.4352 0.0000 0.0000 0.4441 1230.3593 604.7118)" font-size="100">-0.014</text>
<text transform="matrix(0.5345 0.0000 0.0000 0.5603 1414.9620 759.9794)" font-size="100">600</text>
<text transform="matrix(0.5393 0.0000 0.0000 0.5603 1637.1643 759.9794)" font-size="100">700</text>
<text transform="matrix(0.5317 0.0000 0.0000 0.5603 1861.1732 759.9794)" font-size="100">800</text>
<text transform="matrix(0.5280 0.0000 0.0000 0.5603 2083.7161 759.9794)" font-size="100">900</text>
<text transform="matrix(0.5438 0.0000 0.0000 0.5451 1766.3123 811.8780)" font-size="100">T, °C</text>
<text transform="matrix(0.0000 -0.5290 0.5256 0.0000 1219.3633 518.5871)" font-size="100">d(ΔL)/dt, μm/s</text>
<text transform="matrix(0.3127 0.0000 0.0000 0.3409 1760.0873 198.3000)" font-size="100">A</text>
<text transform="matrix(0.2084 0.0000 0.0000 0.2529 1783.4664 206.6941)" font-size="100">C1</text>
<text transform="matrix(0.2775 0.0000 0.0000 0.3439 1941.3225 212.3000)" font-size="100">A</text>
<text transform="matrix(0.2156 0.0000 0.0000 0.2441 1964.1376 220.1118)" font-size="100">C3</text>
<text transform="matrix(0.6350 0.0000 0.0000 0.6056 65.0602 866.8833)" font-size="100" font-weight="bold">(c)</text>
<text transform="matrix(0.4456 0.0000 0.0000 0.4706 127.5175 935.1588)" font-size="100">0.015</text>
<text transform="matrix(0.4477 0.0000 0.0000 0.4706 127.5093 1041.5588)" font-size="100">0.012</text>
<text transform="matrix(0.4456 0.0000 0.0000 0.4706 127.5175 1147.9588)" font-size="100">0.009</text>
<text transform="matrix(0.4436 0.0000 0.0000 0.4706 127.5257 1254.3588)" font-size="100">0.006</text>
<text transform="matrix(0.4456 0.0000 0.0000 0.4706 127.5175 1360.7588)" font-size="100">0.003</text>
<text transform="matrix(0.4456 0.0000 0.0000 0.4706 127.5175 1467.1588)" font-size="100">0.000</text>
<text transform="matrix(0.4619 0.0000 0.0000 0.4603 314.9524 1578.5794)" font-size="100">0</text>
<text transform="matrix(0.4556 0.0000 0.0000 0.4603 448.3775 1578.5794)" font-size="100">200</text>
<text transform="matrix(0.4326 0.0000 0.0000 0.4603 606.0347 1578.5794)" font-size="100">400</text>
<text transform="matrix(0.4465 0.0000 0.0000 0.4603 761.1141 1578.5794)" font-size="100">600</text>
<text transform="matrix(0.4415 0.0000 0.0000 0.4603 918.5338 1578.5794)" font-size="100">800</text>
<text transform="matrix(0.4390 0.0000 0.0000 0.4603 1063.5487 1578.5794)" font-size="100">1000</text>
<text transform="matrix(0.5394 0.0000 0.0000 0.5415 621.2212 1635.5366)" font-size="100">T, °C</text>
<text transform="matrix(0.0000 -0.5270 0.5412 0.0000 110.2176 1245.4078)" font-size="100">ΔL/L</text>
<text transform="matrix(0.4344 0.0000 0.0000 0.4456 584.7968 1485.0088)" font-size="100">Ms=288°C</text>
<text transform="matrix(0.6289 0.0000 0.0000 0.6033 1178.6842 881.0300)" font-size="100" font-weight="bold">(d)</text>
<text transform="matrix(0.4468 0.0000 0.0000 0.4735 1261.3127 929.7529)" font-size="100">0.004</text>
<text transform="matrix(0.4530 0.0000 0.0000 0.4735 1261.2880 1082.3529)" font-size="100">0.003</text>
<text transform="matrix(0.4551 0.0000 0.0000 0.4735 1261.2796 1235.1529)" font-size="100">0.002</text>
<text transform="matrix(0.4572 0.0000 0.0000 0.4735 1261.2712 1387.7529)" font-size="100">0.001</text>
<text transform="matrix(0.4530 0.0000 0.0000 0.4735 1261.2880 1540.4529)" font-size="100">0.000</text>
<text transform="matrix(0.4905 0.0000 0.0000 0.4662 1371.8381 1581.8676)" font-size="100">0</text>
<text transform="matrix(0.4428 0.0000 0.0000 0.4662 1494.1150 1581.8676)" font-size="100">1500</text>
<text transform="matrix(0.4592 0.0000 0.0000 0.4662 1645.2042 1581.8676)" font-size="100">3000</text>
<text transform="matrix(0.4464 0.0000 0.0000 0.4662 1801.3072 1581.8676)" font-size="100">4500</text>
<text transform="matrix(0.4510 0.0000 0.0000 0.4662 1954.6958 1581.8676)" font-size="100">6000</text>
<text transform="matrix(0.4500 0.0000 0.0000 0.4662 2108.1000 1581.8676)" font-size="100">7500</text>
<text transform="matrix(0.5354 0.0000 0.0000 0.5500 1740.8292 1636.2000)" font-size="100">Time, s</text>
<text transform="matrix(0.0000 -0.5436 0.5456 0.0000 1243.4088 1261.5745)" font-size="100">ΔL/L</text>
</svg>
</body></html>
